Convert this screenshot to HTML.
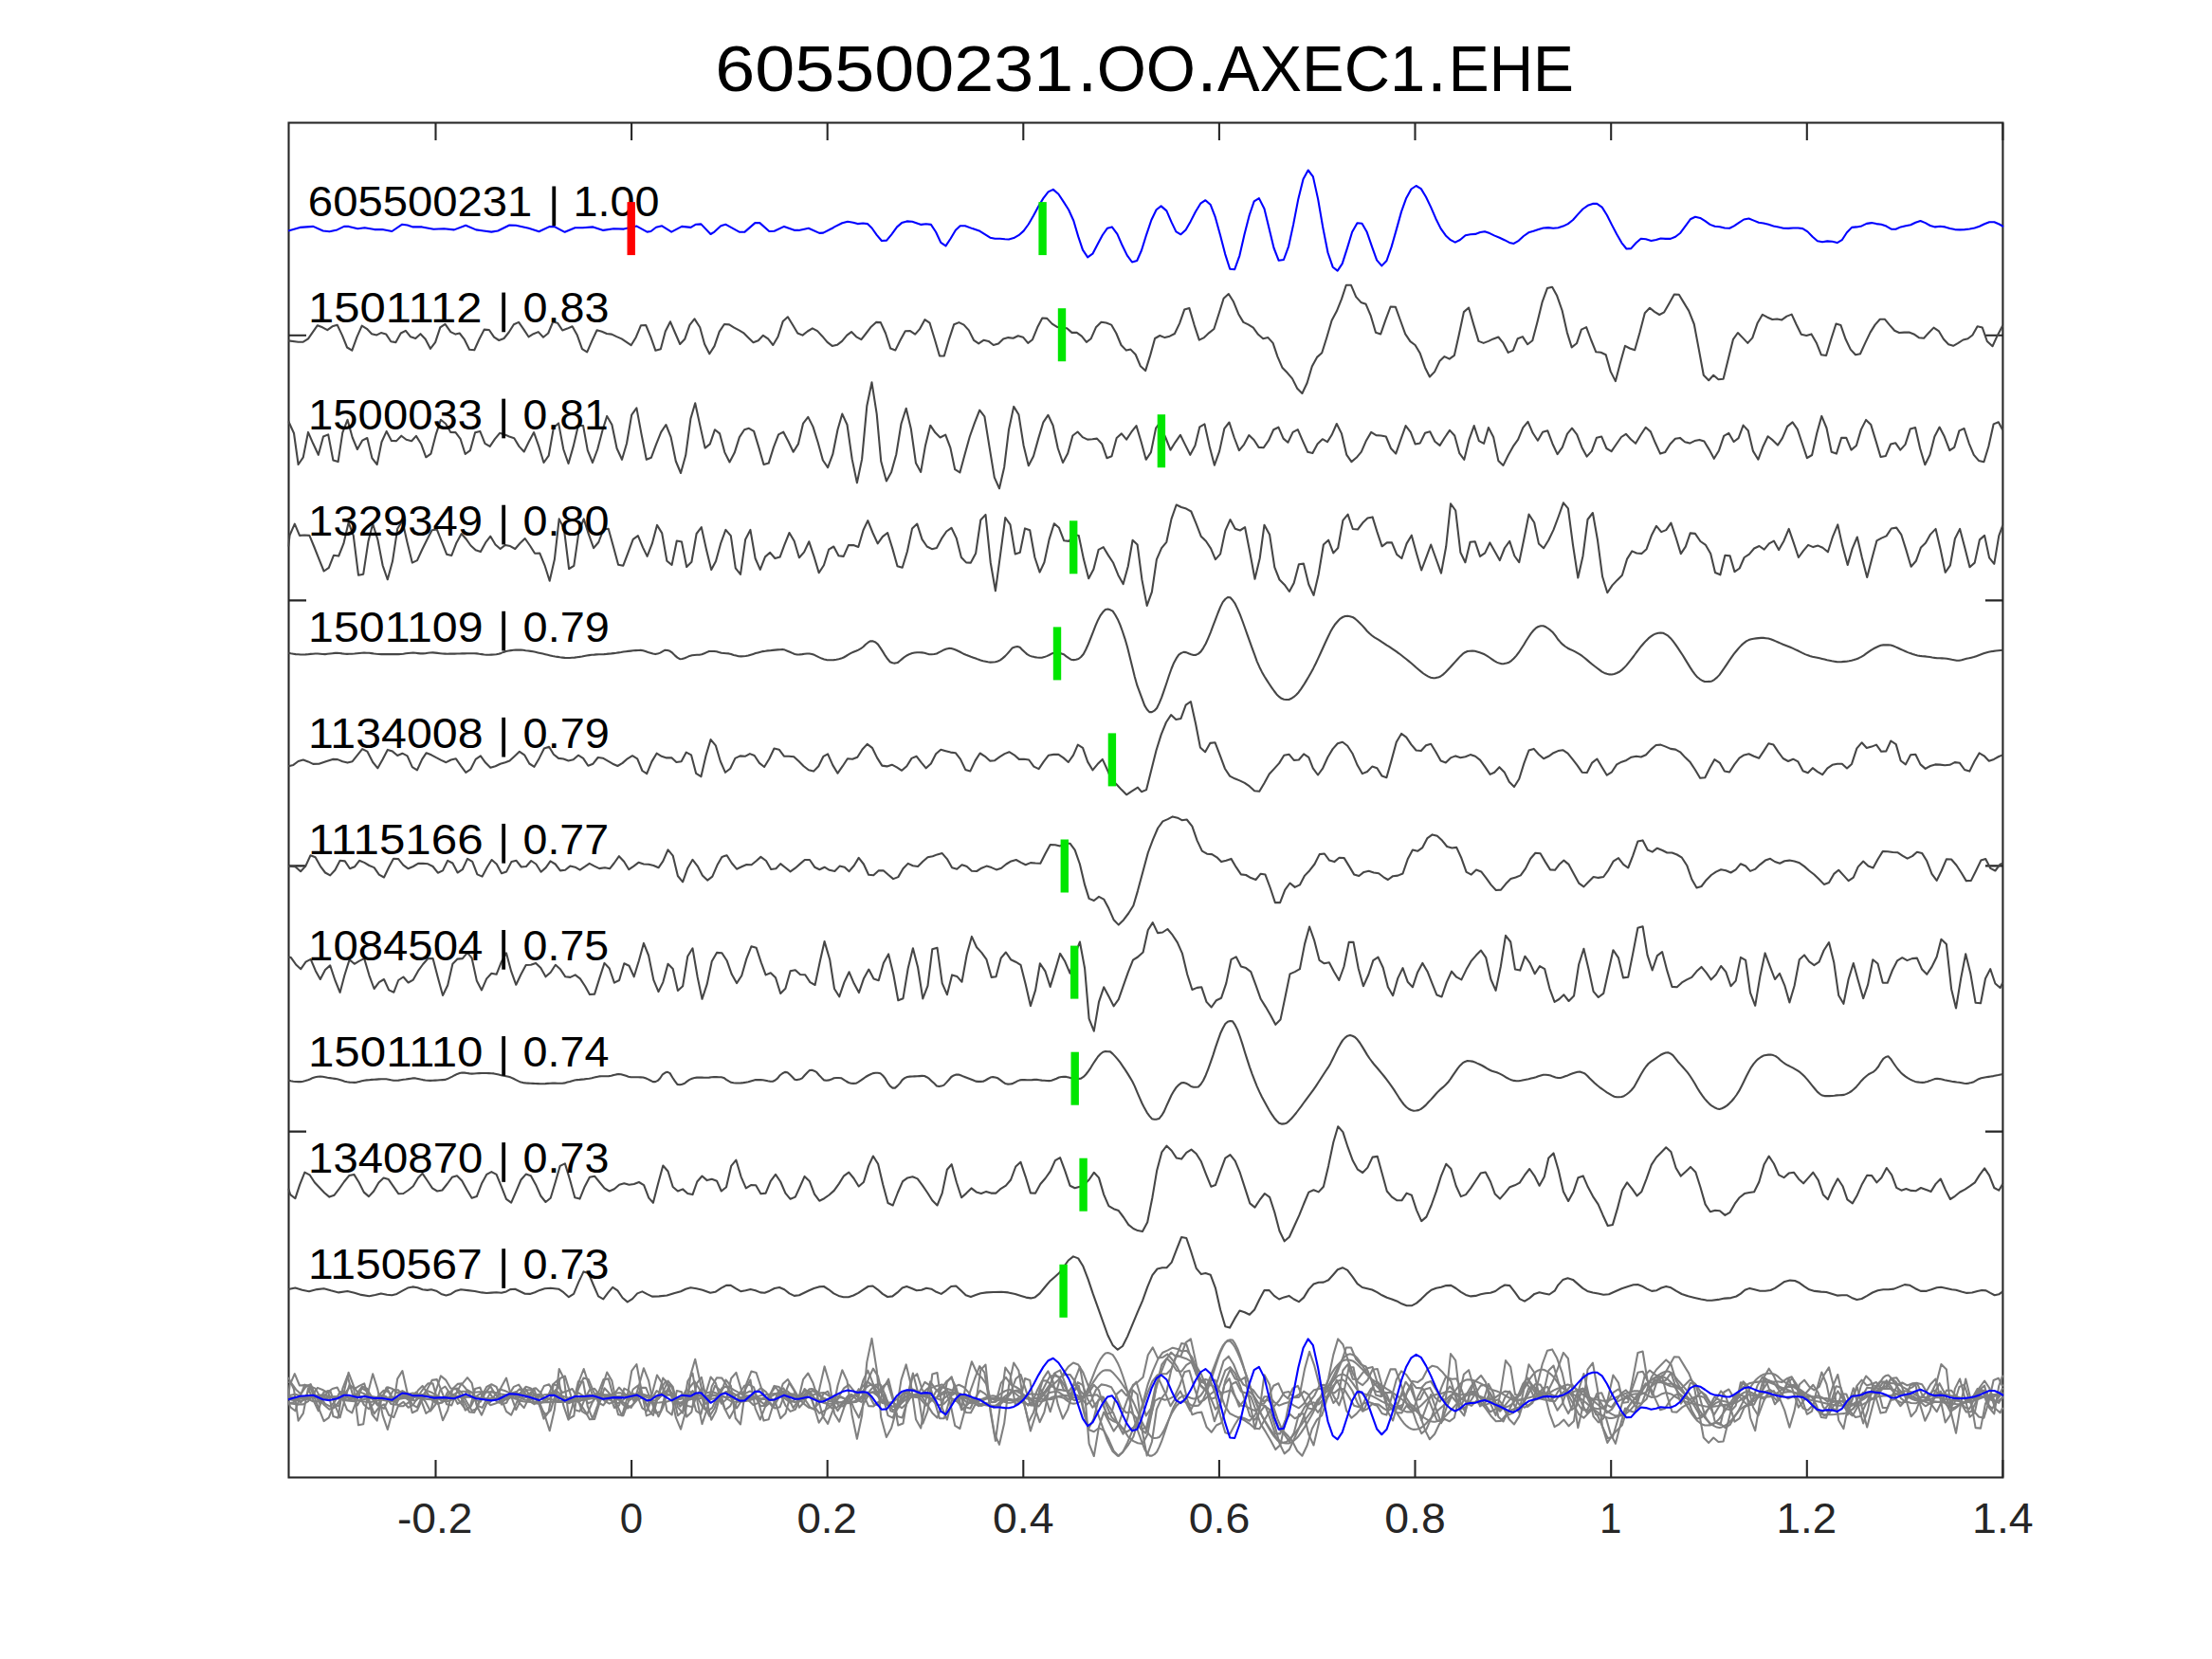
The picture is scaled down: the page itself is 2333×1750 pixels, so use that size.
<!DOCTYPE html>
<html><head><meta charset="utf-8"><title>605500231.OO.AXEC1.EHE</title>
<style>html,body{margin:0;padding:0;background:#fff;}body{width:2333px;height:1750px;overflow:hidden;}svg{display:block;}text{font-family:"Liberation Sans",sans-serif;}</style></head><body>
<svg width="2333" height="1750" viewBox="0 0 2333 1750">
<rect x="0" y="0" width="2333" height="1750" fill="#ffffff"/>
<defs><clipPath id="ax"><rect x="303.5" y="128.5" width="1809.9" height="1431.0"/></clipPath>
<polyline id="r0" points="304.1,243.5 316.3,239.9 330.4,238.9 340.7,243.5 347.5,244.3 355.6,242.4 362.9,238.9 367.8,238.9 377.3,241.3 384.6,240.2 394.9,242.1 403.1,242.1 413.4,244.0 424.2,236.7 429.7,237.5 435.6,239.4 445.1,239.4 457.3,241.8 468.2,241.3 479.0,242.4 491.2,237.8 502.1,242.4 518.4,244.6 525.1,243.5 537.3,237.5 544.1,237.8 557.7,240.8 568.5,244.3 579.4,239.1 584.8,239.1 595.7,244.8 606.5,240.2 614.6,240.2 625.5,239.4 636.3,242.9 647.2,241.3 658.0,241.6 671.6,238.6 682.5,244.6 686.5,244.0 692.0,239.7 698.2,238.3 708.2,244.6 719.1,238.9 728.6,239.9 734.0,236.7 739.4,236.4 749.5,247.0 753.5,244.6 760.3,238.3 765.2,236.7 780.1,244.8 785.5,244.6 796.4,235.1 801.3,235.1 811.3,244.0 816.7,243.7 827.0,238.9 838.4,242.9 842.5,242.9 852.8,240.8 864.2,245.9 868.3,245.6 877.8,240.8 880.0,239.4 888.3,235.3 894.1,233.8 899.8,234.7 904.5,236.1 910.2,235.5 914.9,236.1 919.5,240.5 924.7,247.8 929.9,254.0 935.1,253.6 940.3,247.3 946.1,239.4 951.1,235.1 956.5,233.4 962.1,233.8 971.5,236.9 976.7,236.3 981.9,236.9 987.1,244.8 992.3,255.9 997.5,259.4 1002.7,251.5 1007.9,242.8 1012.7,238.2 1017.9,238.2 1025.6,241.1 1033.5,243.8 1039.1,247.3 1044.3,250.7 1049.5,251.7 1054.7,251.7 1059.9,252.3 1064.0,252.5 1069.2,251.1 1074.4,248.2 1079.6,243.6 1084.8,236.5 1090.0,227.6 1095.2,217.8 1100.4,209.1 1105.6,202.4 1110.8,199.9 1116.4,204.7 1121.6,212.6 1127.1,221.3 1132.3,232.8 1137.2,249.4 1142.0,263.6 1147.2,271.3 1152.4,267.7 1157.6,257.7 1162.8,248.0 1168.0,240.7 1172.8,239.4 1178.4,246.9 1183.6,258.8 1188.8,269.4 1194.0,276.5 1199.2,275.0 1204.0,264.0 1209.2,247.3 1214.4,232.0 1219.6,221.3 1224.6,217.4 1230.4,222.4 1235.6,234.4 1240.4,244.4 1245.4,247.3 1250.6,242.4 1255.8,233.4 1261.0,223.2 1266.2,214.7 1271.4,211.2 1276.8,216.1 1281.8,229.2 1287.0,248.0 1292.2,268.1 1297.2,283.7 1302.2,284.2 1307.4,269.6 1312.5,247.3 1317.7,227.0 1322.7,212.4 1327.9,209.1 1333.5,220.3 1338.3,240.1 1343.5,261.5 1348.7,274.8 1353.9,274.0 1359.1,259.8 1364.1,236.9 1369.3,209.9 1374.5,189.1 1379.7,179.5 1384.9,186.4 1390.1,209.9 1395.3,240.1 1400.5,266.5 1405.7,281.7 1410.7,285.6 1415.7,278.1 1420.9,261.9 1426.1,244.8 1431.5,235.3 1436.5,235.7 1441.7,244.8 1446.9,259.8 1452.1,274.4 1457.3,280.4 1462.5,275.0 1467.6,260.4 1472.8,242.1 1478.0,223.4 1483.2,208.9 1488.4,199.5 1493.6,196.0 1498.8,199.1 1504.0,207.8 1509.2,218.6 1514.4,230.7 1519.6,241.1 1524.8,248.4 1530.0,253.2 1534.8,255.7 1540.0,253.0 1545.6,248.2 1550.8,247.3 1556.0,246.9 1561.2,245.1 1566.0,244.2 1571.2,246.1 1576.4,248.6 1581.6,250.7 1586.8,253.2 1592.0,255.9 1596.6,256.9 1601.8,253.8 1607.0,249.0 1612.2,245.3 1617.4,243.8 1622.6,242.1 1627.8,240.5 1633.0,240.1 1638.2,240.7 1643.4,240.3 1648.6,238.6 1653.8,236.1 1659.0,232.0 1664.2,226.1 1669.4,220.5 1674.6,216.8 1679.8,214.9 1684.3,214.9 1689.7,218.6 1694.9,227.0 1700.1,237.4 1705.3,247.3 1710.5,256.3 1715.5,262.5 1720.3,262.1 1725.5,256.3 1730.7,251.7 1735.9,252.3 1741.5,254.0 1746.7,253.0 1751.5,251.5 1756.7,251.9 1761.9,251.9 1767.1,249.8 1772.3,245.7 1777.5,238.6 1782.8,231.3 1788.0,228.8 1793.2,229.9 1798.4,233.2 1803.6,236.9 1808.6,238.8 1813.8,239.2 1819.0,240.5 1824.2,240.7 1828.9,238.4 1834.1,234.9 1839.3,231.5 1844.5,230.5 1849.7,232.6 1854.9,234.7 1860.1,235.5 1865.3,236.7 1870.5,238.4 1875.7,239.6 1880.9,240.7 1886.1,240.9 1891.3,240.5 1896.5,240.5 1901.3,241.1 1906.5,244.4 1911.7,249.8 1916.9,254.2 1922.1,255.2 1927.3,254.4 1932.5,254.8 1937.7,256.1 1942.7,253.2 1947.9,245.3 1953.1,239.9 1958.3,239.4 1963.5,238.4 1968.7,235.9 1973.9,235.1 1979.1,236.1 1984.3,236.7 1989.5,238.6 1994.7,241.7 1999.5,241.7 2004.7,239.4 2009.9,238.2 2015.1,237.2 2020.3,234.7 2025.5,233.0 2030.7,235.1 2035.8,238.0 2041.0,239.4 2046.2,238.8 2051.4,239.4 2056.6,241.1 2061.8,242.1 2067.0,242.4 2072.2,242.1 2077.4,241.5 2082.6,240.5 2087.8,238.8 2093.0,236.3 2098.2,234.2 2103.4,234.2 2108.6,236.5 2113.2,239.2"/>
<polyline id="r1" points="304.2,359.4 314.6,360.7 319.8,360.7 325.0,357.4 330.2,349.9 334.9,343.2 340.1,345.3 345.3,348.2 350.5,344.3 355.7,342.8 360.9,353.6 366.1,366.5 371.3,369.6 376.5,355.3 381.7,343.6 386.9,346.8 392.1,352.2 397.3,353.4 401.9,351.1 407.1,352.4 412.3,360.3 417.5,361.1 422.7,351.5 427.9,348.8 433.1,355.3 438.3,357.0 443.5,352.2 448.7,357.8 453.9,367.8 459.1,361.1 464.3,345.3 469.5,341.8 475.3,350.1 480.5,352.6 484.7,351.5 489.9,358.2 495.1,368.8 500.3,369.2 505.5,357.8 510.7,347.6 515.9,348.0 521.1,355.7 526.3,359.0 531.5,357.0 536.7,350.5 541.9,342.2 547.1,339.9 552.3,347.4 557.5,355.3 562.6,352.2 567.8,350.1 573.0,355.7 578.2,351.5 583.2,339.5 588.0,340.7 593.2,348.4 598.4,346.6 603.6,344.3 608.8,353.6 614.0,368.2 619.2,371.3 624.4,359.4 629.6,348.2 634.8,349.7 640.0,352.0 645.2,352.6 650.4,355.1 655.6,357.4 660.8,360.9 665.6,364.2 670.8,355.7 676.0,343.2 681.2,343.0 686.4,355.7 691.4,369.8 696.8,368.2 701.8,349.5 707.0,339.3 712.2,351.5 717.2,363.0 722.2,357.8 727.4,342.8 732.5,336.4 738.2,345.3 743.1,363.0 748.3,373.2 753.5,365.1 758.7,349.9 763.9,342.0 769.1,342.4 774.3,345.7 779.5,348.4 784.1,351.1 789.3,356.3 794.5,361.3 799.7,359.2 804.9,353.8 810.1,357.4 815.3,364.0 820.5,355.3 825.7,339.1 830.9,334.3 836.1,342.8 841.3,351.5 846.5,353.6 851.7,349.5 856.9,346.3 862.1,349.1 867.3,354.7 872.5,360.9 877.7,364.9 882.9,363.8 888.1,359.9 893.3,353.6 898.0,350.1 903.2,355.3 908.4,358.2 913.6,351.5 918.8,344.7 924.0,339.9 928.8,340.1 934.0,351.5 939.2,367.6 944.4,369.4 949.6,358.8 954.8,349.3 960.0,349.1 965.2,352.6 969.8,347.4 975.4,337.2 980.6,340.7 985.8,357.8 991.0,375.5 995.8,375.5 1001.0,357.8 1006.2,342.2 1011.4,340.1 1016.6,342.6 1021.8,348.4 1027.0,358.8 1032.2,362.4 1037.4,358.8 1042.6,359.9 1047.8,364.0 1053.0,362.6 1058.2,357.4 1063.4,356.1 1068.6,356.7 1073.8,354.2 1079.0,355.7 1084.2,361.9 1089.0,358.2 1094.2,345.3 1099.3,335.5 1104.3,335.9 1109.7,341.6 1114.9,344.9 1120.1,345.7 1125.3,346.3 1130.5,350.9 1135.7,350.9 1140.9,354.7 1145.9,360.9 1150.7,357.2 1155.9,345.3 1161.5,339.7 1166.7,340.5 1172.1,342.6 1177.3,351.5 1182.5,364.0 1187.9,369.6 1192.5,368.6 1197.7,374.0 1202.9,386.3 1208.1,391.1 1213.3,374.4 1218.1,357.0 1223.3,354.0 1228.5,356.1 1233.7,354.7 1238.9,352.0 1244.1,341.1 1249.2,326.6 1254.4,325.1 1259.6,342.8 1264.8,358.6 1270.0,356.1 1275.2,351.1 1280.4,347.0 1285.6,330.8 1290.6,314.7 1295.8,310.0 1301.0,318.3 1306.2,331.2 1311.4,339.9 1316.6,342.4 1321.8,345.7 1327.0,352.8 1332.2,357.2 1337.4,356.1 1342.6,361.9 1347.4,376.1 1352.6,388.1 1357.8,393.3 1363.0,399.4 1368.2,409.8 1373.4,415.0 1378.6,404.0 1383.8,386.5 1389.0,376.9 1394.2,372.3 1399.4,355.7 1404.6,338.0 1409.8,328.3 1415.0,315.4 1419.8,300.8 1425.0,300.8 1430.2,313.1 1435.4,318.9 1440.6,320.8 1445.8,333.2 1451.0,350.7 1456.2,352.4 1461.4,337.4 1466.6,323.5 1471.8,323.7 1477.0,338.0 1482.2,352.4 1487.4,360.1 1492.6,364.0 1497.8,372.8 1503.0,387.7 1507.9,397.5 1513.1,392.1 1518.3,381.1 1523.5,376.1 1528.7,378.6 1533.9,374.8 1538.7,353.6 1543.9,329.1 1549.1,324.5 1554.3,342.6 1559.5,359.9 1564.7,361.9 1569.9,359.9 1575.1,357.4 1580.3,355.5 1585.5,361.9 1590.7,371.9 1595.9,369.6 1600.7,357.2 1605.9,355.1 1611.1,363.2 1616.3,359.2 1621.5,339.5 1626.7,318.3 1631.9,304.1 1637.1,302.7 1642.2,312.1 1647.6,327.5 1652.8,350.6 1657.7,366.4 1662.9,362.3 1667.9,347.6 1673.1,345.1 1678.1,358.5 1683.3,371.3 1688.5,371.8 1693.7,374.3 1698.7,391.9 1703.9,402.1 1708.8,383.3 1714.0,364.8 1719.0,367.5 1724.2,369.3 1729.4,351.0 1734.8,330.2 1740.0,324.8 1745.0,328.9 1750.2,332.0 1755.2,329.3 1760.4,320.3 1765.8,310.5 1770.8,310.8 1776.0,319.4 1781.2,327.9 1786.8,342.0 1791.8,368.6 1796.8,395.8 1802.2,401.2 1807.2,395.8 1812.4,400.3 1817.6,399.8 1822.8,378.8 1828.0,357.8 1832.9,351.0 1838.1,356.4 1843.3,361.9 1848.3,356.4 1853.5,341.1 1858.9,331.8 1864.1,334.7 1869.3,337.0 1874.3,336.5 1879.3,337.4 1884.5,333.6 1889.7,331.6 1894.6,342.2 1899.8,352.8 1905.3,353.9 1910.5,352.4 1915.7,361.4 1920.9,374.3 1926.1,375.0 1931.3,357.8 1936.5,341.5 1941.4,342.9 1946.6,357.8 1951.8,368.6 1957.0,374.3 1962.0,373.2 1967.2,361.9 1972.6,350.6 1977.6,342.6 1982.8,336.8 1988.0,336.8 1993.0,342.9 1998.2,348.7 2003.1,351.0 2008.3,350.6 2013.5,350.6 2018.5,352.4 2023.9,356.2 2029.1,356.7 2034.3,351.0 2039.5,345.6 2045.0,349.4 2049.9,357.8 2055.1,363.2 2060.1,364.8 2065.3,361.9 2070.5,358.5 2075.5,357.3 2080.4,353.5 2085.6,344.2 2090.8,345.6 2095.8,360.0 2101.5,365.2 2106.7,353.9 2112.3,343.3"/>
<polyline id="r2" points="304.2,444.3 310.0,457.0 314.6,490.0 319.8,482.3 325.0,455.9 330.2,467.8 335.8,479.8 341.0,460.5 346.2,458.4 351.4,485.5 356.6,487.1 361.3,456.3 366.5,442.8 371.7,461.5 376.9,474.0 382.1,464.7 387.3,462.0 392.5,483.4 397.7,490.0 402.5,466.3 407.7,454.9 412.9,464.9 418.1,465.1 423.3,459.7 428.5,463.8 434.1,465.3 438.9,459.9 444.1,468.2 449.3,482.3 454.5,478.6 459.7,458.4 464.9,442.8 470.1,447.0 475.3,455.9 480.5,456.1 485.7,463.2 490.7,479.0 495.9,475.1 501.1,456.3 506.3,454.9 511.5,467.8 516.7,470.9 521.9,463.2 527.1,456.8 532.3,458.4 537.1,460.5 542.3,462.2 547.5,470.9 552.7,476.5 557.9,465.7 563.1,456.1 568.3,470.9 573.5,488.0 578.7,480.7 583.9,451.1 589.1,446.4 594.3,474.0 599.5,489.0 604.7,470.9 609.9,448.7 615.1,449.1 619.8,475.1 625.0,488.0 630.2,474.0 635.4,454.3 640.2,438.9 645.4,448.0 650.6,473.0 656.0,484.8 661.0,467.8 666.2,437.6 671.4,430.4 676.6,458.4 681.8,484.8 686.8,482.8 692.0,468.8 697.2,455.9 702.4,448.0 707.6,461.1 712.8,486.5 718.0,499.0 723.2,480.3 728.4,441.8 733.2,425.2 738.4,449.1 743.6,472.6 748.8,468.4 754.0,453.2 759.1,457.4 764.3,477.1 769.5,487.5 774.7,477.6 779.9,461.1 785.1,453.2 789.9,451.8 795.1,454.9 800.3,471.9 805.5,490.0 810.7,488.6 815.9,471.9 821.1,458.4 826.3,455.7 831.5,465.7 836.7,476.7 841.9,468.4 847.1,446.6 852.3,439.9 857.5,450.1 862.7,466.7 867.9,485.5 873.1,493.2 878.3,479.2 883.5,453.2 888.3,436.6 893.5,448.0 898.7,484.4 903.9,509.2 909.1,484.4 914.3,428.3 919.5,403.3 924.7,436.6 929.2,486.5 934.9,507.5 940.1,497.9 945.3,479.2 950.5,447.0 955.7,430.8 960.8,452.2 966.0,488.6 971.2,497.9 976.0,469.9 981.2,448.7 986.4,456.3 991.6,461.5 997.2,458.6 1002.4,472.4 1007.2,495.2 1012.4,498.4 1017.6,479.2 1022.8,460.5 1028.0,445.9 1033.2,432.6 1038.4,439.3 1043.6,471.9 1048.8,503.6 1054.0,515.2 1059.2,492.7 1064.0,453.2 1069.2,428.9 1074.4,437.2 1079.6,469.9 1084.8,491.3 1090.0,481.3 1095.2,462.6 1100.4,445.3 1105.4,437.8 1110.6,448.7 1115.8,473.0 1121.0,488.0 1126.2,478.2 1131.4,459.5 1136.6,455.5 1141.8,461.1 1147.0,463.6 1152.2,463.2 1157.0,462.6 1162.2,468.2 1167.4,483.2 1172.5,481.3 1177.7,462.0 1182.9,457.4 1188.1,463.6 1193.3,455.7 1198.5,449.1 1203.5,465.7 1208.7,484.8 1213.9,477.1 1219.1,451.6 1222.6,447.0 1229.3,461.5 1234.5,474.6 1239.7,466.3 1244.9,458.8 1250.1,469.4 1255.3,479.8 1260.5,469.9 1265.3,450.3 1270.5,447.4 1275.7,470.9 1280.9,490.7 1286.1,476.1 1291.3,452.2 1296.5,445.5 1301.7,461.5 1306.9,475.1 1312.1,468.8 1317.3,459.1 1322.5,464.0 1327.6,471.9 1332.8,472.2 1338.0,464.7 1343.2,453.2 1348.4,450.7 1353.6,462.6 1358.4,466.7 1363.6,455.9 1368.8,453.2 1374.0,465.1 1379.2,476.7 1384.4,478.0 1389.6,468.2 1394.8,463.2 1400.0,466.1 1404.6,458.8 1409.8,447.0 1415.0,457.4 1420.2,479.6 1425.4,487.1 1430.6,482.8 1435.8,476.7 1441.0,464.7 1446.2,455.9 1451.4,459.1 1456.6,459.5 1461.8,460.5 1467.0,473.0 1472.2,478.6 1477.4,463.6 1482.6,449.1 1487.8,455.9 1492.6,468.4 1497.8,467.4 1503.0,456.8 1508.2,455.3 1513.4,465.7 1518.6,469.9 1523.8,461.5 1529.0,453.9 1534.2,459.5 1539.3,478.2 1544.3,484.8 1549.5,463.6 1554.7,449.1 1559.9,465.1 1565.1,467.8 1569.9,451.1 1575.1,460.9 1580.3,485.9 1585.5,490.9 1590.7,480.3 1595.9,470.9 1601.1,463.6 1606.3,451.1 1611.5,444.9 1616.7,456.8 1621.9,464.7 1627.1,455.7 1632.3,454.3 1637.5,468.2 1642.6,479.1 1647.8,471.9 1653.0,457.6 1658.0,451.7 1663.2,458.3 1668.4,471.9 1673.6,481.6 1678.8,475.9 1684.0,461.7 1689.2,460.6 1694.4,473.0 1699.6,476.1 1704.8,468.5 1710.0,461.0 1714.9,457.8 1720.1,463.5 1725.1,467.8 1730.3,459.0 1735.7,450.8 1740.9,455.4 1745.9,467.3 1751.1,478.6 1756.1,477.1 1761.5,468.5 1766.9,462.8 1771.9,461.9 1777.1,466.2 1782.1,467.6 1787.3,465.1 1792.5,463.9 1797.4,465.5 1802.6,474.1 1807.8,483.8 1813.0,475.2 1818.2,459.9 1823.4,456.9 1828.6,466.0 1833.6,462.1 1838.6,448.6 1843.8,454.2 1849.0,475.9 1854.4,484.7 1859.6,470.7 1864.6,460.3 1869.8,464.4 1875.0,469.6 1879.9,462.1 1885.1,449.9 1890.6,445.4 1895.8,452.9 1901.0,468.5 1905.9,483.2 1911.1,480.0 1916.3,456.7 1921.3,438.9 1926.5,451.5 1931.7,476.8 1936.9,478.6 1942.1,461.9 1947.3,461.9 1952.5,474.6 1957.9,470.0 1962.9,453.1 1968.1,442.9 1973.3,448.1 1978.5,465.1 1983.5,482.0 1988.9,480.9 1994.1,468.5 1999.3,467.3 2004.3,474.6 2009.5,468.9 2014.7,452.6 2020.1,451.1 2025.1,473.0 2030.3,490.2 2035.5,479.8 2040.4,460.6 2045.6,450.6 2050.8,460.6 2056.3,475.2 2061.2,471.9 2066.4,454.4 2071.6,452.0 2076.6,467.3 2081.8,479.8 2087.0,485.9 2092.4,487.2 2097.4,470.7 2102.6,447.4 2107.8,445.2 2112.3,453.8"/>
<polyline id="r3" points="304.2,576.5 305.6,564.5 310.8,552.6 316.0,564.9 321.2,564.5 326.4,564.9 331.2,576.5 336.4,589.6 341.6,602.5 346.8,598.8 352.0,585.7 357.2,586.5 362.4,573.4 367.6,551.2 372.8,565.1 378.0,606.7 383.2,605.7 388.4,571.3 393.2,552.6 398.4,569.3 403.6,596.3 408.8,611.3 414.0,592.1 419.2,557.8 424.4,549.5 429.6,572.4 434.8,593.6 440.0,591.1 445.2,579.7 450.4,569.3 455.6,559.3 460.8,558.5 465.9,571.3 471.1,584.7 476.3,585.9 481.5,572.4 486.7,563.0 491.3,568.2 496.5,575.5 501.7,580.3 506.9,582.0 512.1,572.4 517.3,565.7 522.5,574.5 527.7,579.0 532.9,574.9 538.1,576.1 543.3,579.0 548.5,573.0 553.7,568.0 558.9,575.5 564.1,583.8 569.3,583.6 574.5,596.3 579.7,612.7 584.9,590.1 589.7,547.4 594.9,557.8 600.1,600.0 605.3,596.9 610.5,560.9 615.7,547.4 620.9,563.7 626.1,578.2 631.3,572.0 636.5,558.5 641.7,557.8 646.9,576.5 652.1,595.7 657.3,596.7 662.5,582.8 667.7,568.9 672.9,565.1 678.1,577.6 682.6,586.9 687.8,573.4 693.0,553.9 698.2,562.4 703.4,591.7 708.6,595.9 713.8,570.5 719.0,571.6 724.2,598.0 729.4,592.8 734.6,563.0 739.8,556.2 745.0,579.7 750.2,601.1 755.0,592.1 760.2,573.0 765.4,558.9 770.8,565.1 775.8,599.4 781.0,605.9 786.2,568.9 791.4,558.9 796.6,589.0 801.8,600.9 807.0,587.4 812.2,582.8 817.4,589.0 822.6,587.6 827.3,574.9 832.5,562.0 837.7,570.7 842.9,588.2 848.1,582.4 853.3,571.3 858.5,586.9 863.7,604.2 868.9,596.3 874.1,579.7 879.3,576.5 884.5,586.3 889.7,586.9 894.9,575.1 900.1,575.1 905.3,577.0 910.5,559.3 915.3,549.1 920.5,562.0 925.7,573.4 930.9,566.1 936.1,562.0 941.3,578.6 946.5,597.3 951.7,598.8 956.9,581.7 962.1,557.4 967.3,552.6 972.5,568.9 977.7,576.5 982.9,579.2 987.9,578.0 993.1,568.2 998.3,560.5 1003.5,556.8 1008.7,567.6 1013.9,588.0 1019.1,593.4 1023.9,593.6 1029.1,583.8 1034.3,548.5 1039.5,542.9 1044.7,593.2 1049.9,623.3 1055.1,584.9 1060.3,546.0 1065.5,553.3 1070.7,584.4 1075.8,582.8 1081.0,557.4 1086.2,559.3 1091.4,588.0 1096.6,603.6 1101.4,593.2 1106.6,568.9 1111.8,552.2 1117.0,556.8 1122.2,570.3 1127.4,570.9 1132.6,564.1 1137.8,565.1 1143.0,590.1 1148.2,610.2 1153.4,600.5 1158.6,579.9 1163.8,577.2 1169.0,585.9 1174.2,593.8 1179.4,606.7 1184.6,616.1 1189.8,597.3 1194.6,569.7 1199.6,574.5 1204.5,611.9 1209.7,638.9 1214.9,624.4 1219.9,590.1 1225.1,578.2 1230.3,571.8 1235.5,547.4 1240.7,532.5 1245.9,535.0 1251.1,536.6 1256.3,539.5 1261.5,552.2 1266.7,565.7 1271.9,570.7 1277.1,578.6 1281.9,590.1 1287.1,584.4 1292.3,559.9 1297.5,548.1 1302.7,557.8 1307.9,559.5 1313.1,556.2 1318.3,582.8 1323.5,610.7 1328.7,589.0 1333.5,553.7 1339.1,564.1 1344.3,598.4 1349.5,611.5 1354.7,616.7 1359.9,624.0 1364.7,615.0 1369.9,595.3 1374.9,594.6 1380.3,616.5 1385.5,627.9 1390.7,605.7 1395.9,574.5 1401.1,569.7 1406.3,583.4 1411.2,578.0 1416.4,548.9 1421.6,542.6 1426.8,558.0 1432.0,558.5 1437.2,551.6 1442.4,546.6 1447.6,545.4 1452.4,560.9 1457.6,576.3 1462.8,572.4 1468.0,572.4 1473.2,584.9 1478.4,589.0 1483.6,573.4 1488.8,564.7 1494.0,583.8 1499.2,601.5 1504.4,587.6 1509.2,574.5 1514.4,589.0 1520.0,604.6 1525.2,576.5 1530.0,531.4 1535.2,538.5 1540.4,582.8 1545.4,593.2 1550.6,571.8 1555.8,571.3 1561.0,586.9 1566.2,583.4 1571.4,572.4 1576.6,581.7 1581.8,591.1 1587.0,578.0 1592.2,570.9 1597.4,586.5 1602.2,593.2 1607.4,568.2 1612.5,542.6 1618.2,551.2 1622.9,573.4 1628.1,578.2 1633.3,569.7 1638.5,558.9 1643.7,545.0 1648.9,530.3 1653.9,536.4 1659.1,575.6 1664.3,609.5 1669.5,586.4 1674.5,548.0 1679.9,541.0 1684.9,569.2 1690.1,608.3 1695.3,625.3 1700.5,617.4 1705.7,611.9 1710.9,606.7 1716.1,589.6 1721.3,581.4 1726.2,583.5 1731.4,583.9 1736.6,579.2 1742.1,564.2 1747.0,554.8 1752.2,561.1 1757.2,559.1 1762.4,551.6 1767.6,567.0 1772.8,584.1 1777.8,576.7 1782.7,562.4 1787.9,562.9 1793.4,571.0 1799.0,574.9 1804.2,583.9 1809.0,604.0 1814.4,606.3 1819.4,585.7 1824.6,586.4 1829.5,603.1 1834.7,599.5 1839.7,588.0 1844.9,584.6 1850.1,578.5 1855.5,576.0 1860.7,579.6 1865.9,573.3 1870.9,570.6 1876.1,580.1 1881.5,570.4 1886.7,557.9 1891.7,572.4 1896.9,588.0 1901.9,581.2 1907.1,574.9 1912.3,577.1 1917.5,575.6 1922.4,577.8 1927.9,582.3 1933.1,565.8 1938.3,553.4 1943.2,575.6 1948.7,595.9 1953.6,578.9 1958.8,566.5 1963.8,588.0 1969.2,609.0 1974.4,589.1 1979.4,570.4 1984.4,567.6 1989.6,565.4 1994.8,557.5 2000.2,556.6 2005.4,564.2 2010.4,580.1 2015.6,597.7 2020.8,591.8 2026.0,577.4 2030.9,572.8 2036.1,563.6 2041.6,557.9 2046.5,578.9 2051.7,603.8 2056.9,596.3 2061.9,568.3 2067.1,557.9 2072.3,577.8 2077.5,598.2 2082.7,593.6 2087.9,569.4 2093.1,564.9 2098.1,588.4 2103.3,594.8 2108.2,565.4 2112.3,554.1"/>
<polyline id="r4" points="304.2,688.8 306.7,689.3 309.3,689.7 311.9,690.1 314.5,690.3 317.1,690.5 319.6,690.5 322.2,690.4 324.8,690.2 327.4,689.9 330.0,689.7 332.5,689.5 335.1,689.5 337.7,689.7 340.3,690.0 342.9,690.1 345.4,689.8 348.0,689.5 350.6,689.2 353.2,688.9 355.8,688.8 358.3,689.0 360.9,689.4 363.5,689.7 366.1,689.9 368.7,689.8 371.2,689.7 373.8,689.5 376.4,689.2 379.0,689.0 381.6,688.8 384.1,688.6 386.7,688.7 389.3,688.8 391.9,689.1 394.5,689.5 397.0,689.8 399.6,690.0 402.2,690.1 404.8,690.1 407.4,690.1 409.9,690.1 412.5,690.1 415.1,690.1 417.7,690.1 420.3,690.1 422.8,690.0 425.4,689.7 428.0,689.3 430.6,689.0 433.2,688.7 435.7,688.6 438.3,688.8 440.9,689.1 443.5,689.4 446.1,689.4 448.6,689.2 451.2,688.8 453.8,688.5 456.4,688.4 459.0,688.6 461.5,688.9 464.1,689.2 466.7,689.5 469.3,689.6 471.9,689.7 474.4,689.6 477.0,689.6 479.6,689.6 482.2,689.5 484.8,689.5 487.3,689.4 489.9,689.4 492.5,689.3 495.1,689.3 497.7,689.3 500.2,689.3 502.8,689.4 505.4,689.8 508.0,690.1 510.6,690.5 513.1,690.7 515.7,690.7 518.3,690.6 520.9,690.5 523.5,690.3 526.0,689.8 528.6,688.9 531.2,687.9 533.8,687.0 536.4,686.5 538.9,686.1 541.5,685.8 544.1,685.6 546.7,685.5 549.3,685.6 551.8,685.8 554.4,686.2 557.0,686.5 559.6,686.9 562.2,687.3 564.7,687.8 567.3,688.4 569.9,689.0 572.5,689.6 575.1,690.2 577.6,690.8 580.2,691.4 582.8,692.0 585.4,692.5 588.0,692.9 590.5,693.3 593.1,693.6 595.7,693.9 598.3,694.0 600.9,694.0 603.4,693.8 606.0,693.6 608.6,693.2 611.2,692.9 613.8,692.5 616.3,692.0 618.9,691.5 621.5,691.1 624.1,690.7 626.7,690.6 629.2,690.4 631.8,690.3 634.4,690.2 637.0,690.1 639.6,689.9 642.1,689.6 644.7,689.4 647.3,689.1 649.9,688.8 652.5,688.4 655.0,688.0 657.6,687.5 660.2,687.2 662.8,686.9 665.4,686.6 667.9,686.3 670.5,686.1 673.1,686.0 675.7,685.9 678.3,686.3 680.8,687.1 683.4,688.0 686.0,688.8 688.6,689.6 691.2,690.1 693.7,689.6 696.3,688.6 698.9,687.1 701.5,685.7 704.1,686.0 706.6,686.8 709.2,688.7 711.8,691.4 714.4,693.6 717.0,695.2 719.5,695.0 722.1,694.2 724.7,693.1 727.3,691.9 729.9,691.3 732.4,691.0 735.0,690.8 737.6,690.7 740.2,690.3 742.8,689.3 745.3,688.1 747.9,687.0 750.5,687.0 753.1,687.0 755.7,687.3 758.2,688.1 760.8,688.8 763.4,689.0 766.0,689.2 768.6,689.4 771.1,690.0 773.7,691.0 776.3,691.6 778.9,692.2 781.5,692.4 784.0,692.2 786.6,692.0 789.2,691.5 791.8,690.7 794.4,689.9 796.9,689.1 799.5,688.4 802.1,687.7 804.7,687.1 807.3,686.8 809.8,686.4 812.4,686.2 815.0,685.9 817.6,685.6 820.2,685.4 822.7,685.2 825.3,685.1 827.9,685.6 830.5,686.7 833.1,687.8 835.6,688.9 838.2,690.0 840.8,690.5 843.4,690.4 846.0,690.1 848.5,689.7 851.1,689.5 853.7,689.5 856.3,690.0 858.9,690.8 861.4,692.1 864.0,693.4 866.6,694.6 869.2,695.4 871.8,696.1 874.3,696.3 876.9,696.2 879.5,696.1 882.1,695.8 884.7,695.3 887.2,694.6 889.8,693.5 892.4,692.0 895.0,690.4 897.6,688.9 900.1,687.8 902.7,686.8 905.3,685.6 907.9,684.2 910.5,682.2 913.0,679.7 915.6,677.7 918.2,676.2 920.8,676.4 923.4,677.5 925.9,679.6 928.5,683.4 931.1,687.4 933.7,691.7 936.3,695.3 938.8,698.2 941.4,699.2 944.0,699.6 946.6,699.1 949.2,697.0 951.7,694.9 954.3,692.8 956.9,691.2 959.5,689.9 962.1,689.1 964.6,688.5 967.2,688.2 969.8,688.3 972.4,688.4 975.0,688.8 977.5,689.6 980.1,690.2 982.7,690.2 985.3,690.0 987.9,689.5 990.4,688.2 993.0,686.8 995.6,685.4 998.2,684.5 1000.8,683.9 1003.3,684.0 1005.9,684.8 1008.5,685.8 1011.1,687.0 1013.7,688.3 1016.2,689.7 1018.8,690.8 1021.4,691.8 1024.0,692.8 1026.6,693.7 1029.1,694.6 1031.7,695.6 1034.3,696.5 1036.9,697.3 1039.5,697.8 1042.0,698.3 1044.6,698.6 1047.2,698.5 1049.8,698.2 1052.4,697.5 1054.9,696.4 1057.5,694.4 1060.1,692.1 1062.7,689.4 1065.3,686.3 1067.8,683.4 1070.4,682.5 1073.0,682.0 1075.6,682.8 1078.2,685.4 1080.7,687.8 1083.3,690.1 1085.9,691.6 1088.5,692.6 1091.1,693.1 1093.6,693.5 1096.2,693.8 1098.8,693.7 1101.4,693.1 1104.0,692.1 1106.5,691.0 1109.1,689.6 1111.7,688.7 1114.3,688.7 1116.9,689.0 1119.4,689.4 1122.0,690.3 1124.6,692.4 1127.2,694.2 1129.8,695.8 1132.3,696.1 1134.9,695.7 1137.5,695.0 1140.1,693.0 1142.7,690.0 1145.2,685.2 1147.8,679.5 1150.4,673.0 1153.0,666.3 1155.6,659.6 1158.1,653.9 1160.7,649.1 1163.3,645.6 1165.9,643.0 1168.5,642.5 1171.0,643.3 1173.6,644.7 1176.2,648.5 1178.8,653.2 1181.4,659.1 1183.9,666.0 1186.5,673.8 1189.1,682.8 1191.7,693.3 1194.3,703.7 1196.8,714.0 1199.4,723.2 1202.0,730.1 1204.6,737.1 1207.2,744.1 1209.7,748.3 1212.3,751.1 1214.9,751.1 1217.5,749.7 1220.1,747.0 1222.6,741.9 1225.2,735.7 1227.8,728.2 1230.4,720.5 1233.0,712.5 1235.5,705.5 1238.1,699.2 1240.7,694.4 1243.3,690.7 1245.9,688.9 1248.4,687.9 1251.0,688.1 1253.6,689.3 1256.2,690.3 1258.8,691.0 1261.3,690.9 1263.9,689.6 1266.5,687.4 1269.1,683.6 1271.7,679.0 1274.2,673.3 1276.8,667.1 1279.4,660.2 1282.0,653.3 1284.6,646.5 1287.1,640.4 1289.7,635.1 1292.3,632.0 1294.9,630.0 1297.5,630.3 1300.0,633.0 1302.6,636.7 1305.2,642.1 1307.8,648.2 1310.4,655.0 1312.9,662.0 1315.5,669.3 1318.1,676.6 1320.7,683.9 1323.3,690.9 1325.8,697.8 1328.4,703.7 1331.0,708.9 1333.6,713.5 1336.2,717.6 1338.7,721.5 1341.3,725.4 1343.9,729.0 1346.5,732.4 1349.1,734.9 1351.6,736.8 1354.2,737.7 1356.8,738.0 1359.4,738.0 1362.0,736.8 1364.5,735.2 1367.1,733.0 1369.7,730.2 1372.3,726.6 1374.9,722.7 1377.4,718.6 1380.0,714.3 1382.6,709.7 1385.2,704.9 1387.8,699.7 1390.3,694.4 1392.9,688.7 1395.5,683.0 1398.1,677.2 1400.7,671.7 1403.2,666.6 1405.8,662.1 1408.4,658.2 1411.0,655.2 1413.6,652.6 1416.1,651.0 1418.7,650.0 1421.3,649.8 1423.9,650.2 1426.5,650.9 1429.0,652.5 1431.6,654.7 1434.2,657.2 1436.8,659.9 1439.4,662.8 1441.9,665.7 1444.5,668.3 1447.1,670.5 1449.7,672.3 1452.3,673.8 1454.8,675.3 1457.4,677.1 1460.0,678.8 1462.6,680.6 1465.2,682.2 1467.7,683.9 1470.3,685.6 1472.9,687.4 1475.5,689.3 1478.1,691.3 1480.6,693.3 1483.2,695.3 1485.8,697.4 1488.4,699.5 1491.0,701.7 1493.5,704.0 1496.1,706.2 1498.7,708.4 1501.3,710.5 1503.9,712.2 1506.4,713.6 1509.0,714.7 1511.6,715.2 1514.2,715.1 1516.8,714.6 1519.3,713.5 1521.9,711.6 1524.5,709.3 1527.1,706.5 1529.7,703.8 1532.2,701.0 1534.8,698.1 1537.4,695.2 1540.0,692.4 1542.6,689.9 1545.1,688.2 1547.7,687.0 1550.3,686.7 1552.9,686.5 1555.5,686.8 1558.0,687.5 1560.6,688.3 1563.2,689.2 1565.8,690.3 1568.4,691.8 1570.9,693.5 1573.5,695.3 1576.1,697.2 1578.7,698.6 1581.3,699.6 1583.8,700.2 1586.4,700.1 1589.0,699.5 1591.6,698.7 1594.2,696.8 1596.7,694.5 1599.3,691.6 1601.9,688.2 1604.5,684.2 1607.1,680.2 1609.6,676.0 1612.2,672.0 1614.8,668.1 1617.4,665.0 1620.0,662.4 1622.5,661.0 1625.1,660.3 1627.7,660.2 1630.3,661.3 1632.9,663.0 1635.4,664.9 1638.0,667.3 1640.6,670.7 1643.2,674.5 1645.8,677.4 1648.3,679.9 1650.9,682.0 1653.5,683.7 1656.1,685.0 1658.7,686.1 1661.2,687.4 1663.8,688.9 1666.4,690.4 1669.0,692.2 1671.6,694.2 1674.1,696.4 1676.7,698.6 1679.3,700.7 1681.9,702.8 1684.5,704.8 1687.0,706.7 1689.6,708.6 1692.2,709.9 1694.8,710.8 1697.4,711.4 1699.9,711.5 1702.5,711.0 1705.1,710.0 1707.7,708.8 1710.3,706.9 1712.8,704.6 1715.4,701.9 1718.0,698.7 1720.6,695.4 1723.2,692.0 1725.7,688.5 1728.3,685.1 1730.9,681.7 1733.5,678.7 1736.1,675.9 1738.6,673.4 1741.2,671.4 1743.8,669.6 1746.4,668.4 1749.0,667.8 1751.5,667.5 1754.1,667.8 1756.7,669.1 1759.3,670.7 1761.9,673.2 1764.4,676.2 1767.0,679.6 1769.6,683.4 1772.2,687.3 1774.8,691.3 1777.3,695.4 1779.9,699.6 1782.5,703.9 1785.1,707.8 1787.7,711.3 1790.2,714.3 1792.8,716.3 1795.4,718.0 1798.0,719.0 1800.6,719.0 1803.1,718.9 1805.7,718.4 1808.3,716.8 1810.9,714.6 1813.5,711.9 1816.0,708.4 1818.6,704.7 1821.2,700.8 1823.8,696.9 1826.4,693.2 1828.9,689.7 1831.5,686.5 1834.1,683.4 1836.7,680.6 1839.3,678.3 1841.8,676.4 1844.4,675.1 1847.0,674.3 1849.6,673.7 1852.2,673.4 1854.7,673.1 1857.3,672.9 1859.9,672.9 1862.5,673.2 1865.1,673.5 1867.6,674.2 1870.2,675.3 1872.8,676.4 1875.4,677.5 1878.0,678.6 1880.5,679.7 1883.1,680.7 1885.7,681.7 1888.3,682.8 1890.9,683.9 1893.4,685.1 1896.0,686.3 1898.6,687.6 1901.2,688.9 1903.8,690.1 1906.3,691.1 1908.9,692.0 1911.5,692.8 1914.1,693.3 1916.7,693.8 1919.2,694.3 1921.8,694.9 1924.4,695.6 1927.0,696.3 1929.6,696.8 1932.1,697.3 1934.7,697.7 1937.3,698.1 1939.9,698.2 1942.5,698.1 1945.0,697.9 1947.6,697.7 1950.2,697.3 1952.8,696.8 1955.4,696.1 1957.9,695.3 1960.5,694.2 1963.1,692.8 1965.7,691.3 1968.3,689.4 1970.8,687.6 1973.4,685.9 1976.0,684.3 1978.6,683.0 1981.2,681.8 1983.7,680.8 1986.3,680.4 1988.9,680.4 1991.5,680.4 1994.1,680.5 1996.6,681.3 1999.2,682.4 2001.8,683.5 2004.4,684.7 2007.0,685.9 2009.5,687.0 2012.1,688.1 2014.7,689.1 2017.3,690.0 2019.9,690.8 2022.4,691.5 2025.0,691.9 2027.6,692.2 2030.2,692.4 2032.8,692.7 2035.3,693.0 2037.9,693.5 2040.5,693.9 2043.1,694.2 2045.7,694.3 2048.2,694.4 2050.8,694.5 2053.4,694.8 2056.0,695.2 2058.6,695.8 2061.1,696.2 2063.7,696.7 2066.3,696.8 2068.9,696.2 2071.5,695.4 2074.0,694.8 2076.6,694.3 2079.2,693.7 2081.8,693.1 2084.4,692.2 2086.9,691.3 2089.5,690.3 2092.1,689.3 2094.7,688.4 2097.3,687.7 2099.8,687.2 2102.4,686.9 2105.0,686.5 2107.6,686.2 2110.2,686.0 2112.3,685.8"/>
<polyline id="r5" points="304.2,808.2 309.4,806.9 314.6,803.0 319.8,801.5 325.0,803.4 330.2,805.9 336.4,805.7 343.7,803.2 350.9,800.9 356.1,801.1 361.3,803.2 366.5,804.6 371.7,803.2 376.9,796.7 382.1,790.1 387.3,792.6 393.2,804.0 398.4,810.3 403.6,800.9 408.8,790.9 414.0,792.6 419.2,797.0 424.4,794.7 429.6,797.4 434.8,809.2 440.0,812.3 445.2,800.9 449.7,794.2 454.9,796.3 460.1,799.2 465.3,801.9 470.5,804.2 475.7,801.5 480.9,800.3 486.1,807.8 491.3,814.8 496.5,811.3 501.7,800.9 506.9,797.4 512.1,804.6 517.3,809.8 522.5,808.2 527.7,805.7 532.9,804.2 537.5,802.6 542.7,797.8 547.9,792.8 553.1,796.3 558.3,805.5 563.5,808.8 568.7,799.9 573.9,789.5 579.1,787.8 583.9,795.7 589.1,799.9 594.3,800.5 599.5,802.4 604.7,801.3 609.9,796.7 615.1,799.9 620.3,807.8 625.5,805.7 630.7,799.0 635.8,799.7 641.0,802.6 646.2,805.7 651.4,808.0 656.6,804.9 661.8,800.3 667.0,797.2 672.2,800.3 677.4,813.0 682.2,816.1 687.4,803.4 692.6,794.7 697.8,797.8 703.0,799.4 708.6,799.4 713.4,804.0 718.6,803.2 723.8,793.6 729.0,796.3 734.2,815.9 739.4,819.2 744.6,796.7 749.6,780.1 754.8,786.3 759.8,803.0 765.0,814.8 770.2,810.7 775.4,799.9 780.6,797.4 785.8,797.8 790.9,795.1 795.7,797.0 800.9,804.9 806.1,809.0 811.3,800.5 816.5,789.5 821.7,790.7 826.9,797.6 832.1,797.8 837.3,798.2 842.5,803.0 847.7,808.2 852.9,812.3 858.1,813.6 863.3,808.2 868.5,797.8 873.1,795.3 878.3,807.1 883.5,815.7 888.7,808.2 893.9,800.3 899.1,800.7 904.3,798.8 909.5,790.5 914.7,784.9 919.9,788.8 925.1,799.4 930.3,807.6 935.5,808.4 940.7,806.7 945.9,809.4 951.1,812.8 956.3,808.2 961.5,799.9 966.7,797.8 971.9,804.6 976.7,810.3 981.9,805.5 987.1,795.3 992.3,790.7 997.5,792.2 1002.6,793.6 1007.8,794.2 1013.0,800.9 1018.2,811.9 1023.4,813.4 1028.6,802.4 1033.6,794.5 1038.8,797.8 1044.0,802.6 1049.2,802.2 1054.4,798.4 1059.6,795.1 1064.4,793.2 1069.6,796.3 1074.8,800.9 1080.0,800.7 1085.2,801.5 1090.4,808.6 1095.6,811.1 1100.8,803.4 1106.0,796.7 1111.2,795.9 1116.4,795.9 1121.6,799.4 1126.8,804.0 1132.0,796.7 1136.8,785.7 1142.0,788.8 1147.2,803.6 1152.4,812.3 1157.6,806.1 1162.8,800.9 1168.0,812.3 1172.5,822.7 1177.7,827.5 1182.9,833.1 1188.1,838.3 1193.3,834.8 1200.0,830.6 1203.9,835.2 1209.1,833.1 1214.3,812.3 1219.5,791.5 1224.7,774.9 1229.9,762.0 1235.1,754.1 1240.3,758.9 1245.5,757.9 1250.7,743.7 1255.9,740.0 1261.1,763.5 1265.9,788.4 1271.1,793.2 1276.3,783.9 1281.5,783.2 1286.7,796.7 1291.9,810.7 1297.1,818.6 1302.3,821.3 1307.5,823.4 1312.7,825.9 1317.9,829.4 1323.1,834.2 1328.3,834.8 1333.5,825.9 1338.7,816.5 1343.9,810.9 1349.1,805.1 1354.3,796.7 1359.5,795.7 1364.7,801.9 1369.9,801.5 1375.1,795.3 1380.3,798.8 1384.8,810.3 1390.0,817.5 1395.2,810.3 1400.4,798.8 1405.6,790.1 1410.8,784.3 1416.0,782.8 1421.2,786.8 1426.4,794.7 1431.6,807.1 1436.8,816.1 1442.0,814.0 1447.2,808.6 1452.4,810.3 1457.6,818.6 1462.4,820.2 1467.6,801.9 1472.8,782.8 1478.0,773.9 1483.2,777.6 1488.4,785.3 1493.6,791.5 1498.8,792.0 1504.0,786.3 1509.2,784.7 1514.4,793.2 1519.6,802.6 1524.8,804.4 1530.0,799.4 1535.2,797.4 1540.4,799.2 1545.6,798.2 1550.8,796.1 1556.0,797.8 1561.2,801.9 1566.4,809.2 1571.6,816.9 1576.2,814.8 1581.4,809.2 1586.6,814.4 1591.8,824.8 1597.0,830.0 1602.2,821.7 1607.4,805.1 1612.5,791.5 1617.7,789.9 1622.9,795.7 1628.1,800.3 1633.3,797.8 1638.5,794.2 1643.3,792.1 1648.3,791.2 1653.5,794.6 1658.4,800.7 1663.6,807.3 1668.6,814.7 1673.8,815.0 1679.2,804.6 1684.4,800.5 1689.6,809.3 1694.8,817.7 1700.0,814.3 1705.2,806.4 1710.4,803.7 1715.4,801.9 1720.6,798.7 1725.8,797.8 1730.8,798.5 1736.0,796.2 1741.2,790.6 1746.6,786.0 1751.6,785.6 1756.8,787.6 1762.0,789.9 1767.2,790.6 1772.1,793.3 1777.5,799.1 1782.7,804.1 1787.9,812.0 1793.1,820.8 1798.3,820.2 1803.5,809.8 1808.3,801.2 1813.7,804.6 1818.9,813.6 1824.1,814.5 1829.3,806.4 1834.5,799.6 1839.5,796.4 1844.5,795.3 1849.9,797.8 1855.1,799.8 1860.1,792.4 1865.3,784.2 1870.5,785.6 1875.7,793.3 1880.6,800.0 1886.0,803.0 1891.2,800.7 1896.4,803.4 1901.6,813.2 1906.8,815.2 1911.8,810.2 1917.0,814.1 1922.2,817.2 1927.4,810.4 1932.6,806.8 1937.8,805.7 1942.8,805.7 1948.0,810.4 1953.0,805.9 1958.4,789.4 1963.6,783.3 1968.8,789.0 1974.0,787.6 1979.0,785.6 1984.2,792.8 1989.3,792.4 1994.3,781.5 1999.7,785.1 2004.7,802.5 2009.9,806.4 2015.1,796.2 2020.3,795.8 2025.5,806.4 2030.7,810.9 2035.9,808.0 2041.1,806.4 2046.1,806.6 2051.3,807.3 2056.5,806.8 2061.7,804.1 2066.9,804.8 2072.1,812.0 2077.3,813.6 2082.5,803.0 2087.5,794.4 2092.6,797.3 2097.8,802.8 2103.0,800.9 2108.2,798.0 2112.3,796.4"/>
<polyline id="r6" points="304.2,913.6 311.4,914.2 317.1,919.2 322.3,913.6 327.5,902.2 332.6,904.3 337.8,913.6 343.0,920.5 348.2,923.4 353.4,917.8 358.6,907.8 363.8,908.4 369.0,916.3 374.2,914.2 379.0,907.8 384.2,909.9 389.4,913.0 394.6,915.1 399.8,922.6 405.0,925.5 410.2,914.7 415.0,905.7 420.2,906.1 425.4,912.6 430.6,916.3 435.8,914.0 441.0,910.9 446.2,910.7 451.4,911.3 456.6,914.0 461.8,920.7 467.0,918.4 472.2,907.8 477.4,910.5 482.6,920.5 487.8,917.2 493.0,905.9 498.2,908.8 503.4,922.4 508.6,924.6 513.8,914.7 518.6,907.0 523.8,911.5 529.0,921.3 534.2,919.4 539.4,909.1 544.6,907.8 549.8,914.5 555.0,914.0 560.2,908.0 565.4,911.5 570.6,919.7 575.8,915.1 580.5,908.4 585.7,911.5 590.9,918.4 596.1,917.8 601.3,913.6 606.5,914.7 611.7,917.6 616.9,914.2 621.7,910.9 626.9,913.6 632.1,916.1 637.9,915.3 643.1,916.3 647.7,910.5 652.9,903.2 658.1,908.8 663.3,917.2 668.5,913.6 673.7,909.7 678.9,911.5 684.1,911.8 689.3,913.0 694.5,915.3 699.3,908.4 704.5,896.4 709.7,902.6 714.9,924.0 720.1,930.3 725.3,915.7 730.5,906.8 735.7,913.6 740.9,923.6 746.1,928.6 751.3,924.6 756.5,912.6 761.4,903.9 766.6,902.2 771.8,910.5 777.0,916.7 782.2,914.2 787.4,912.0 792.6,912.2 797.8,908.0 802.4,903.9 808.0,908.0 813.2,917.0 818.4,916.3 823.2,911.1 828.4,915.3 833.6,919.4 838.8,915.7 844.0,911.1 848.8,907.0 854.0,907.0 859.2,914.7 864.4,917.2 869.6,914.7 874.8,917.8 880.4,919.0 885.6,913.6 890.8,914.7 895.6,919.2 900.8,913.0 905.7,904.9 910.9,911.5 916.1,922.8 921.3,923.2 926.5,918.4 931.7,918.2 936.9,922.8 942.1,927.1 947.3,925.1 952.5,916.3 957.7,910.9 962.9,913.2 968.1,914.0 973.3,908.8 978.5,904.3 983.7,903.2 988.5,901.4 993.7,900.1 998.9,906.1 1004.1,915.3 1009.3,916.7 1014.5,912.2 1019.7,914.0 1024.9,918.8 1030.1,919.0 1035.3,915.7 1040.5,913.6 1045.7,915.1 1050.9,917.4 1056.1,915.7 1061.3,911.5 1066.5,908.4 1071.7,907.0 1076.9,909.9 1081.7,912.2 1086.9,910.1 1092.1,910.5 1097.3,910.7 1102.5,900.5 1107.7,891.0 1112.9,891.2 1118.1,892.4 1123.3,889.7 1128.5,889.7 1133.7,896.6 1138.9,911.5 1144.1,933.4 1148.6,947.9 1153.8,950.0 1159.0,945.9 1164.2,948.6 1169.4,958.3 1174.6,970.2 1179.8,975.6 1185.0,970.4 1190.2,963.5 1195.4,955.2 1200.0,939.6 1205.6,918.8 1210.8,899.5 1216.0,885.6 1221.2,873.5 1226.4,866.4 1231.6,864.1 1236.8,861.4 1242.0,862.7 1246.5,865.2 1251.7,864.5 1257.4,871.6 1262.6,886.6 1267.8,897.6 1273.0,900.7 1278.2,901.1 1283.4,904.3 1288.1,909.1 1293.3,907.8 1298.5,905.9 1303.7,914.7 1308.9,922.4 1314.1,923.0 1319.3,926.1 1324.5,928.0 1329.7,921.7 1334.5,922.6 1339.7,936.5 1344.9,952.1 1350.1,952.1 1355.3,938.6 1360.5,931.5 1365.7,935.9 1370.9,933.4 1376.1,923.6 1381.3,918.2 1386.5,911.5 1391.7,901.1 1396.9,900.5 1402.1,907.6 1407.3,909.1 1412.5,904.7 1417.7,905.1 1422.9,913.6 1428.1,922.4 1433.3,924.0 1438.5,919.9 1443.7,918.8 1448.9,920.5 1454.1,921.3 1459.3,925.3 1463.9,928.0 1469.1,924.2 1474.3,923.6 1479.5,921.5 1484.7,906.3 1489.9,896.6 1495.1,897.8 1500.3,894.1 1505.5,884.1 1510.7,880.4 1515.8,881.8 1521.0,886.6 1526.2,893.0 1531.4,894.5 1536.2,893.9 1541.4,905.3 1546.6,919.9 1551.8,922.6 1557.0,917.6 1562.2,919.4 1567.4,926.1 1572.6,933.4 1577.8,939.0 1583.0,938.6 1588.2,932.3 1593.4,927.1 1598.6,925.5 1603.8,923.4 1609.0,916.1 1614.2,905.7 1619.4,899.7 1624.6,900.3 1629.8,909.1 1635.0,917.4 1640.0,917.8 1644.4,912.1 1649.4,907.6 1654.6,911.9 1660.0,921.9 1665.2,931.6 1670.4,935.4 1675.6,930.0 1680.6,925.0 1685.8,925.9 1691.2,925.0 1696.4,917.8 1701.8,908.3 1707.0,905.1 1712.2,911.9 1717.2,915.5 1722.2,902.6 1727.4,887.5 1732.6,886.4 1737.8,896.5 1742.7,898.6 1747.9,894.7 1753.4,897.0 1758.3,899.5 1763.5,899.5 1768.7,901.5 1773.9,904.7 1779.4,913.3 1784.3,927.5 1789.5,936.5 1794.5,935.0 1799.7,928.2 1804.9,923.0 1809.9,919.6 1815.1,917.3 1820.3,918.2 1825.5,920.5 1830.7,917.3 1835.9,911.2 1841.1,913.5 1846.0,918.9 1851.0,916.9 1856.2,912.1 1861.9,907.6 1867.1,905.8 1872.0,909.0 1877.2,910.8 1882.2,908.3 1887.4,907.6 1892.6,908.5 1898.0,910.3 1903.0,913.9 1908.2,918.5 1913.4,922.5 1918.6,927.5 1923.8,932.9 1929.0,931.1 1934.2,921.9 1939.2,917.8 1944.4,923.4 1949.6,929.1 1954.8,925.7 1959.7,914.4 1965.2,908.5 1970.4,913.5 1975.6,915.5 1980.5,906.5 1985.7,898.1 1990.9,898.3 1996.4,899.0 2001.3,899.2 2006.5,902.6 2011.7,905.6 2016.9,903.1 2021.9,898.8 2027.1,899.9 2032.3,908.3 2037.5,921.9 2042.7,928.9 2047.7,918.5 2052.9,906.3 2058.1,906.5 2063.5,912.8 2068.7,920.7 2073.7,929.1 2078.9,928.9 2084.1,918.5 2089.3,907.6 2094.2,906.0 2099.2,915.8 2104.4,918.5 2109.6,911.7 2112.3,910.6"/>
<polyline id="r7" points="304.2,1009.5 306.9,1010.1 312.1,1017.4 317.3,1022.2 322.5,1014.7 327.7,1011.8 332.9,1024.2 337.8,1033.0 343.0,1023.0 348.2,1018.4 353.4,1034.0 358.6,1046.9 363.4,1028.8 368.6,1012.2 373.8,1016.8 379.0,1013.6 384.2,1011.1 389.4,1028.8 394.6,1043.0 399.8,1036.1 405.0,1033.0 410.2,1044.4 415.4,1046.7 420.2,1034.0 425.4,1030.5 430.6,1036.5 435.8,1033.6 441.0,1024.2 446.2,1017.0 451.4,1011.1 456.6,1011.1 461.8,1030.9 467.0,1050.0 472.2,1039.2 477.4,1016.8 482.6,1011.6 487.8,1011.1 493.0,1004.9 497.6,1010.5 502.8,1034.4 508.0,1044.4 513.2,1032.4 518.4,1026.7 523.6,1027.8 528.8,1014.7 534.0,1005.3 539.2,1024.7 544.3,1038.8 549.5,1027.8 554.7,1018.0 559.9,1017.8 565.1,1015.9 570.3,1020.9 575.5,1030.3 580.7,1025.7 585.9,1017.8 591.1,1022.6 596.3,1030.3 601.5,1030.9 606.7,1028.4 611.9,1032.4 617.1,1040.3 621.9,1049.0 627.1,1048.6 632.3,1031.9 637.5,1015.9 642.7,1021.5 647.9,1036.7 653.1,1034.0 658.3,1016.3 663.5,1018.8 668.7,1030.3 673.9,1013.2 678.9,994.9 684.1,1008.0 689.3,1033.6 694.5,1046.1 699.3,1036.1 704.5,1016.8 709.7,1022.0 714.9,1045.0 720.1,1040.3 725.3,1008.7 730.5,1000.3 735.7,1030.9 740.5,1053.8 745.7,1038.2 750.8,1013.9 756.0,1004.9 761.4,1005.3 766.6,1013.2 771.8,1027.8 777.0,1037.1 782.2,1029.2 787.4,1011.1 792.4,998.3 797.6,999.7 802.8,1015.3 807.6,1028.4 812.8,1026.3 818.0,1031.3 823.2,1048.0 828.4,1042.8 833.6,1024.2 838.8,1023.2 844.0,1028.0 849.2,1028.2 854.4,1036.1 859.6,1039.0 864.8,1014.3 869.6,993.1 875.2,1012.2 880.0,1043.0 885.2,1051.3 890.4,1036.1 895.6,1025.3 900.8,1037.6 905.9,1047.1 911.1,1031.9 916.3,1022.6 921.5,1032.6 926.7,1034.2 931.9,1015.7 937.1,1006.4 942.3,1027.8 947.3,1055.2 952.5,1053.2 957.7,1021.5 962.9,1000.3 968.1,1020.5 973.3,1053.4 978.5,1039.8 983.3,1001.2 988.5,999.7 993.7,1037.1 998.9,1049.2 1004.1,1028.4 1009.3,1029.9 1014.5,1035.7 1019.7,1007.0 1024.9,987.9 1030.1,999.3 1035.3,1004.9 1040.5,1012.2 1045.7,1030.9 1050.5,1030.3 1055.7,1010.7 1060.9,1004.5 1066.1,1012.2 1071.3,1014.7 1076.5,1017.8 1081.7,1038.2 1086.9,1061.1 1092.1,1044.4 1096.9,1016.3 1102.5,1024.7 1107.7,1040.9 1112.9,1023.6 1118.1,1005.9 1123.3,1014.3 1128.5,1026.7 1133.7,1007.0 1138.9,993.5 1144.1,1021.5 1148.6,1074.6 1153.8,1087.7 1159.0,1056.9 1164.2,1041.3 1169.4,1051.1 1174.6,1061.3 1179.8,1054.2 1184.6,1040.3 1189.8,1025.7 1195.0,1012.6 1200.0,1009.5 1205.6,1004.5 1210.8,981.0 1215.8,973.1 1221.0,984.1 1226.2,983.5 1231.4,980.0 1236.6,986.2 1241.8,994.1 1247.0,1005.9 1252.2,1027.8 1257.4,1044.0 1262.6,1041.9 1267.3,1041.3 1272.5,1056.9 1277.7,1062.5 1282.9,1055.2 1288.1,1052.7 1293.3,1037.1 1298.5,1012.2 1303.7,1009.3 1308.9,1019.5 1314.1,1021.1 1319.3,1025.1 1324.5,1039.2 1329.7,1053.8 1334.9,1062.1 1340.1,1071.0 1345.3,1080.8 1350.5,1075.6 1355.7,1050.7 1360.5,1027.4 1365.7,1025.1 1370.9,1022.2 1376.1,995.6 1381.1,977.5 1386.3,992.4 1391.5,1012.8 1396.7,1016.3 1401.9,1015.3 1407.1,1025.3 1412.3,1034.0 1417.5,1019.5 1422.7,993.9 1427.5,993.9 1432.7,1021.5 1437.9,1040.3 1443.1,1028.8 1448.3,1013.2 1453.5,1009.7 1458.7,1020.7 1463.9,1041.3 1469.1,1050.2 1474.3,1031.9 1479.5,1021.1 1484.7,1035.7 1489.9,1041.3 1495.1,1025.7 1500.3,1015.9 1505.5,1024.7 1510.7,1037.8 1515.4,1049.6 1520.6,1051.5 1525.8,1036.1 1531.0,1024.7 1536.2,1030.7 1541.4,1033.4 1546.6,1022.6 1551.8,1013.6 1557.0,1007.6 1562.0,1002.6 1567.2,1010.1 1572.4,1033.0 1577.6,1044.8 1582.8,1019.5 1588.0,986.8 1593.2,993.5 1598.0,1022.6 1603.2,1023.6 1608.4,1008.7 1613.6,1015.9 1618.8,1027.2 1624.0,1019.1 1629.2,1022.2 1634.4,1042.8 1639.6,1056.9 1644.4,1054.0 1649.4,1049.3 1654.6,1056.0 1660.0,1050.6 1665.2,1017.2 1670.4,1000.7 1675.6,1022.8 1680.6,1045.9 1685.8,1052.0 1691.2,1047.9 1696.4,1024.6 1701.4,1002.2 1707.0,1010.4 1712.0,1031.4 1717.2,1030.7 1722.2,1005.9 1727.4,978.7 1732.6,977.2 1737.5,1007.4 1742.7,1023.5 1747.9,1008.1 1753.1,1004.1 1758.3,1023.9 1763.5,1040.9 1768.7,1041.3 1773.9,1036.4 1779.1,1033.4 1784.3,1030.9 1789.5,1024.6 1794.5,1019.9 1799.7,1026.2 1804.7,1033.4 1809.9,1028.0 1815.1,1019.0 1820.3,1025.1 1825.5,1040.2 1830.7,1034.6 1835.9,1009.9 1841.1,1012.9 1846.0,1047.2 1851.2,1060.8 1856.4,1029.6 1861.6,1005.4 1866.8,1019.4 1872.0,1033.0 1877.0,1026.9 1882.2,1039.3 1887.4,1057.4 1892.6,1039.8 1897.8,1012.2 1903.0,1007.4 1908.2,1014.4 1913.4,1018.1 1918.6,1014.7 1923.6,1002.5 1929.0,994.1 1934.2,1014.9 1939.2,1049.9 1944.4,1058.8 1949.6,1033.0 1954.8,1016.0 1959.7,1034.1 1965.2,1053.1 1970.1,1038.6 1975.3,1012.2 1980.5,1016.5 1985.7,1036.6 1990.7,1036.8 1995.9,1023.5 2001.1,1013.3 2006.3,1010.2 2011.5,1013.1 2016.7,1011.1 2021.9,1010.6 2027.1,1022.6 2032.3,1027.8 2037.5,1019.9 2042.7,1009.2 2047.4,990.7 2052.9,996.1 2058.1,1043.2 2063.0,1063.5 2068.2,1031.9 2073.2,1006.3 2078.4,1027.3 2083.6,1057.8 2089.0,1058.3 2094.0,1032.3 2099.2,1022.1 2104.4,1037.5 2109.6,1042.0 2112.3,1036.4"/>
<polyline id="r8" points="304.2,1139.4 306.7,1140.2 309.3,1140.7 311.9,1141.0 314.5,1141.1 317.1,1141.1 319.6,1140.8 322.2,1140.1 324.8,1139.3 327.4,1138.2 330.0,1136.9 332.5,1136.2 335.1,1135.7 337.7,1135.5 340.3,1135.7 342.9,1136.2 345.4,1136.7 348.0,1137.1 350.6,1137.5 353.2,1137.9 355.8,1138.3 358.3,1139.0 360.9,1139.8 363.5,1140.7 366.1,1141.3 368.7,1141.6 371.2,1141.8 373.8,1141.9 376.4,1141.6 379.0,1140.9 381.6,1140.2 384.1,1139.7 386.7,1139.4 389.3,1139.2 391.9,1138.9 394.5,1138.8 397.0,1138.6 399.6,1138.4 402.2,1138.3 404.8,1138.2 407.4,1138.3 409.9,1138.7 412.5,1139.3 415.1,1139.8 417.7,1139.8 420.3,1139.6 422.8,1139.2 425.4,1138.8 428.0,1138.5 430.6,1138.1 433.2,1137.7 435.7,1137.4 438.3,1137.4 440.9,1137.9 443.5,1138.6 446.1,1139.1 448.6,1139.5 451.2,1139.8 453.8,1139.9 456.4,1139.8 459.0,1139.6 461.5,1139.5 464.1,1139.3 466.7,1139.1 469.3,1138.9 471.9,1138.1 474.4,1136.9 477.0,1135.6 479.6,1134.2 482.2,1132.9 484.8,1132.1 487.3,1131.6 489.9,1131.6 492.5,1132.0 495.1,1132.4 497.7,1132.6 500.2,1132.5 502.8,1132.3 505.4,1132.1 508.0,1132.0 510.6,1132.0 513.1,1132.0 515.7,1132.1 518.3,1132.2 520.9,1132.4 523.5,1133.0 526.0,1133.6 528.6,1134.2 531.2,1134.7 533.8,1135.2 536.4,1135.8 538.9,1136.6 541.5,1137.8 544.1,1139.1 546.7,1140.4 549.3,1141.6 551.8,1142.1 554.4,1142.4 557.0,1142.6 559.6,1142.8 562.2,1142.9 564.7,1143.0 567.3,1143.1 569.9,1143.2 572.5,1143.2 575.1,1143.1 577.6,1142.9 580.2,1142.7 582.8,1142.6 585.4,1142.6 588.0,1142.7 590.5,1142.7 593.1,1142.8 595.7,1142.4 598.3,1141.6 600.9,1141.0 603.4,1140.2 606.0,1139.6 608.6,1139.1 611.2,1138.9 613.8,1138.6 616.3,1138.4 618.9,1138.0 621.5,1137.7 624.1,1137.2 626.7,1136.6 629.2,1135.9 631.8,1135.4 634.4,1135.2 637.0,1135.2 639.6,1135.2 642.1,1135.1 644.7,1134.8 647.3,1133.9 649.9,1133.4 652.5,1133.0 655.0,1133.2 657.6,1134.0 660.2,1134.8 662.8,1135.7 665.4,1136.3 667.9,1136.3 670.5,1136.3 673.1,1136.3 675.7,1136.4 678.3,1136.5 680.8,1137.2 683.4,1138.4 686.0,1139.7 688.6,1141.1 691.2,1141.1 693.7,1139.9 696.3,1137.3 698.9,1133.3 701.5,1131.6 704.1,1130.8 706.6,1132.1 709.2,1136.5 711.8,1140.4 714.4,1143.9 717.0,1144.2 719.5,1143.8 722.1,1142.8 724.7,1140.6 727.3,1138.9 729.9,1137.7 732.4,1137.0 735.0,1136.6 737.6,1136.5 740.2,1136.6 742.8,1136.7 745.3,1136.7 747.9,1136.6 750.5,1136.3 753.1,1136.1 755.7,1136.1 758.2,1136.2 760.8,1136.3 763.4,1136.9 766.0,1138.8 768.6,1140.4 771.1,1141.8 773.7,1142.3 776.3,1142.5 778.9,1142.5 781.5,1142.4 784.0,1142.1 786.6,1141.7 789.2,1141.3 791.8,1140.5 794.4,1139.7 796.9,1139.1 799.5,1139.0 802.1,1139.1 804.7,1139.3 807.3,1139.7 809.8,1140.3 812.4,1140.8 815.0,1140.7 817.6,1139.5 820.2,1137.4 822.7,1134.2 825.3,1132.2 827.9,1130.9 830.5,1131.2 833.1,1133.6 835.6,1136.1 838.2,1138.8 840.8,1139.1 843.4,1138.6 846.0,1137.4 848.5,1134.5 851.1,1131.8 853.7,1129.1 856.3,1128.8 858.9,1129.7 861.4,1131.2 864.0,1134.2 866.6,1136.9 869.2,1139.4 871.8,1139.8 874.3,1139.4 876.9,1138.6 879.5,1137.3 882.1,1137.0 884.7,1137.0 887.2,1137.2 889.8,1138.8 892.4,1140.5 895.0,1142.0 897.6,1142.7 900.1,1142.9 902.7,1142.8 905.3,1141.4 907.9,1139.7 910.5,1137.8 913.0,1136.0 915.6,1134.5 918.2,1133.2 920.8,1132.1 923.4,1131.8 925.9,1131.8 928.5,1132.2 931.1,1134.5 933.7,1137.7 936.3,1142.3 938.8,1145.7 941.4,1147.6 944.0,1147.6 946.6,1145.4 949.2,1142.6 951.7,1139.1 954.3,1137.1 956.9,1136.0 959.5,1135.6 962.1,1135.5 964.6,1135.4 967.2,1135.3 969.8,1135.1 972.4,1134.9 975.0,1135.0 977.5,1136.2 980.1,1137.9 982.7,1140.4 985.3,1142.8 987.9,1145.4 990.4,1146.1 993.0,1145.6 995.6,1144.6 998.2,1141.9 1000.8,1139.0 1003.3,1136.0 1005.9,1134.4 1008.5,1133.6 1011.1,1133.5 1013.7,1134.4 1016.2,1135.6 1018.8,1136.5 1021.4,1137.5 1024.0,1138.5 1026.6,1139.5 1029.1,1140.6 1031.7,1140.9 1034.3,1140.9 1036.9,1140.8 1039.5,1139.5 1042.0,1138.0 1044.6,1136.6 1047.2,1136.1 1049.8,1136.5 1052.4,1137.3 1054.9,1139.2 1057.5,1141.1 1060.1,1142.9 1062.7,1143.6 1065.3,1143.5 1067.8,1143.1 1070.4,1141.8 1073.0,1140.4 1075.6,1139.4 1078.2,1139.0 1080.7,1139.1 1083.3,1139.2 1085.9,1139.2 1088.5,1139.1 1091.1,1138.9 1093.6,1138.9 1096.2,1139.2 1098.8,1139.6 1101.4,1139.8 1104.0,1140.0 1106.5,1140.1 1109.1,1139.7 1111.7,1138.8 1114.3,1137.7 1116.9,1136.5 1119.4,1136.0 1122.0,1135.7 1124.6,1135.9 1127.2,1136.6 1129.8,1137.3 1132.3,1138.1 1134.9,1138.2 1137.5,1138.0 1140.1,1137.6 1142.7,1135.9 1145.2,1133.5 1147.8,1130.1 1150.4,1126.3 1153.0,1122.0 1155.6,1118.1 1158.1,1114.5 1160.7,1111.8 1163.3,1109.8 1165.9,1109.1 1168.5,1109.2 1171.0,1109.4 1173.6,1111.6 1176.2,1114.4 1178.8,1117.4 1181.4,1120.7 1183.9,1124.3 1186.5,1128.1 1189.1,1132.1 1191.7,1136.4 1194.3,1140.8 1196.8,1145.9 1199.4,1152.1 1202.0,1158.2 1204.6,1164.0 1207.2,1169.1 1209.7,1173.6 1212.3,1177.1 1214.9,1180.2 1217.5,1180.8 1220.1,1180.6 1222.6,1179.9 1225.2,1176.7 1227.8,1172.4 1230.4,1166.4 1233.0,1160.7 1235.5,1155.3 1238.1,1150.8 1240.7,1146.9 1243.3,1144.3 1245.9,1142.4 1248.4,1142.0 1251.0,1142.8 1253.6,1144.1 1256.2,1146.0 1258.8,1146.7 1261.3,1146.7 1263.9,1146.5 1266.5,1143.8 1269.1,1139.8 1271.7,1134.2 1274.2,1127.8 1276.8,1120.7 1279.4,1113.1 1282.0,1104.9 1284.6,1097.3 1287.1,1090.3 1289.7,1084.8 1292.3,1080.0 1294.9,1077.7 1297.5,1077.0 1300.0,1077.3 1302.6,1081.2 1305.2,1086.4 1307.8,1093.5 1310.4,1101.4 1312.9,1109.8 1315.5,1117.9 1318.1,1125.8 1320.7,1133.1 1323.3,1139.9 1325.8,1146.1 1328.4,1151.9 1331.0,1157.2 1333.6,1162.0 1336.2,1166.7 1338.7,1171.2 1341.3,1175.4 1343.9,1179.2 1346.5,1182.2 1349.1,1184.8 1351.6,1185.6 1354.2,1185.4 1356.8,1184.8 1359.4,1182.6 1362.0,1180.0 1364.5,1177.1 1367.1,1174.0 1369.7,1170.5 1372.3,1167.1 1374.9,1163.5 1377.4,1160.1 1380.0,1156.7 1382.6,1153.2 1385.2,1149.6 1387.8,1145.9 1390.3,1142.0 1392.9,1138.0 1395.5,1134.0 1398.1,1130.0 1400.7,1126.2 1403.2,1121.9 1405.8,1116.7 1408.4,1111.4 1411.0,1106.0 1413.6,1101.4 1416.1,1097.4 1418.7,1094.6 1421.3,1092.7 1423.9,1092.1 1426.5,1092.8 1429.0,1094.0 1431.6,1096.6 1434.2,1100.0 1436.8,1104.1 1439.4,1108.4 1441.9,1112.6 1444.5,1116.5 1447.1,1120.0 1449.7,1123.3 1452.3,1126.3 1454.8,1129.2 1457.4,1132.3 1460.0,1135.5 1462.6,1138.8 1465.2,1142.3 1467.7,1145.8 1470.3,1149.6 1472.9,1153.7 1475.5,1157.8 1478.1,1161.7 1480.6,1165.0 1483.2,1167.7 1485.8,1169.7 1488.4,1171.0 1491.0,1171.7 1493.5,1171.5 1496.1,1171.1 1498.7,1169.9 1501.3,1167.9 1503.9,1165.6 1506.4,1162.8 1509.0,1160.1 1511.6,1157.2 1514.2,1154.3 1516.8,1151.4 1519.3,1149.1 1521.9,1146.9 1524.5,1144.5 1527.1,1141.8 1529.7,1138.4 1532.2,1134.6 1534.8,1130.8 1537.4,1127.1 1540.0,1123.9 1542.6,1121.4 1545.1,1119.9 1547.7,1119.1 1550.3,1119.2 1552.9,1119.6 1555.5,1120.4 1558.0,1121.6 1560.6,1122.7 1563.2,1124.0 1565.8,1125.5 1568.4,1127.1 1570.9,1128.5 1573.5,1129.7 1576.1,1130.5 1578.7,1131.3 1581.3,1132.4 1583.8,1133.7 1586.4,1135.2 1589.0,1136.8 1591.6,1138.1 1594.2,1139.2 1596.7,1139.9 1599.3,1140.3 1601.9,1140.2 1604.5,1139.8 1607.1,1139.3 1609.6,1138.8 1612.2,1138.3 1614.8,1137.6 1617.4,1136.9 1620.0,1136.2 1622.5,1135.3 1625.1,1134.5 1627.7,1133.8 1630.3,1133.7 1632.9,1134.0 1635.4,1134.5 1638.0,1135.6 1640.6,1136.5 1643.2,1137.0 1645.8,1137.0 1648.3,1136.3 1650.9,1135.3 1653.5,1134.4 1656.1,1133.2 1658.7,1132.3 1661.2,1131.4 1663.8,1130.7 1666.4,1130.6 1669.0,1131.4 1671.6,1132.5 1674.1,1134.7 1676.7,1137.5 1679.3,1140.0 1681.9,1142.5 1684.5,1144.8 1687.0,1146.8 1689.6,1148.7 1692.2,1150.5 1694.8,1152.3 1697.4,1153.9 1699.9,1155.4 1702.5,1156.7 1705.1,1157.2 1707.7,1157.2 1710.3,1157.0 1712.8,1156.2 1715.4,1154.5 1718.0,1152.5 1720.6,1150.0 1723.2,1146.9 1725.7,1142.6 1728.3,1137.7 1730.9,1133.0 1733.5,1128.7 1736.1,1125.0 1738.6,1122.0 1741.2,1119.9 1743.8,1118.1 1746.4,1116.3 1749.0,1114.5 1751.5,1112.8 1754.1,1111.5 1756.7,1110.5 1759.3,1110.3 1761.9,1111.4 1764.4,1113.2 1767.0,1116.4 1769.6,1119.7 1772.2,1122.6 1774.8,1125.5 1777.3,1128.4 1779.9,1131.4 1782.5,1135.0 1785.1,1139.0 1787.7,1143.2 1790.2,1147.7 1792.8,1151.9 1795.4,1155.6 1798.0,1159.1 1800.6,1162.0 1803.1,1164.6 1805.7,1166.7 1808.3,1168.2 1810.9,1169.4 1813.5,1169.9 1816.0,1169.2 1818.6,1168.0 1821.2,1166.4 1823.8,1164.1 1826.4,1161.5 1828.9,1158.5 1831.5,1155.0 1834.1,1150.9 1836.7,1145.9 1839.3,1140.7 1841.8,1135.5 1844.4,1130.5 1847.0,1125.8 1849.6,1122.1 1852.2,1119.1 1854.7,1116.8 1857.3,1115.0 1859.9,1113.6 1862.5,1113.0 1865.1,1112.6 1867.6,1112.5 1870.2,1113.1 1872.8,1114.1 1875.4,1116.0 1878.0,1118.5 1880.5,1120.5 1883.1,1122.3 1885.7,1123.8 1888.3,1125.1 1890.9,1126.4 1893.4,1127.8 1896.0,1129.4 1898.6,1131.2 1901.2,1133.5 1903.8,1136.1 1906.3,1138.9 1908.9,1142.1 1911.5,1145.3 1914.1,1148.5 1916.7,1151.6 1919.2,1153.8 1921.8,1155.5 1924.4,1156.1 1927.0,1156.1 1929.6,1156.1 1932.1,1156.0 1934.7,1155.8 1937.3,1155.4 1939.9,1155.3 1942.5,1155.1 1945.0,1154.9 1947.6,1153.9 1950.2,1152.6 1952.8,1151.0 1955.4,1148.8 1957.9,1146.4 1960.5,1143.4 1963.1,1140.2 1965.7,1137.5 1968.3,1135.2 1970.8,1133.2 1973.4,1131.9 1976.0,1130.6 1978.6,1128.2 1981.2,1125.0 1983.7,1120.6 1986.3,1116.9 1988.9,1115.0 1991.5,1114.3 1994.1,1116.9 1996.6,1120.7 1999.2,1124.5 2001.8,1128.0 2004.4,1130.9 2007.0,1133.4 2009.5,1135.4 2012.1,1137.2 2014.7,1138.6 2017.3,1139.9 2019.9,1140.9 2022.4,1141.4 2025.0,1141.7 2027.6,1141.9 2030.2,1141.6 2032.8,1140.9 2035.3,1140.1 2037.9,1139.1 2040.5,1138.1 2043.1,1137.8 2045.7,1138.1 2048.2,1138.6 2050.8,1139.2 2053.4,1139.7 2056.0,1140.2 2058.6,1140.7 2061.1,1141.1 2063.7,1141.5 2066.3,1141.8 2068.9,1142.3 2071.5,1142.8 2074.0,1143.0 2076.6,1142.6 2079.2,1142.0 2081.8,1141.2 2084.4,1139.7 2086.9,1138.2 2089.5,1137.2 2092.1,1136.7 2094.7,1136.3 2097.3,1135.9 2099.8,1135.5 2102.4,1135.1 2105.0,1134.6 2107.6,1134.1 2110.2,1133.5 2112.3,1133.0"/>
<polyline id="r9" points="304.2,1253.8 306.2,1260.1 311.4,1264.2 316.2,1249.7 321.4,1236.6 326.6,1239.3 331.8,1247.2 337.0,1252.8 342.2,1258.2 347.4,1262.6 352.6,1260.7 357.8,1253.8 363.0,1246.5 368.2,1240.1 373.4,1238.9 378.6,1247.2 383.8,1257.6 389.0,1262.1 394.2,1256.5 399.4,1247.6 404.6,1242.6 409.8,1244.1 415.0,1251.7 420.2,1259.2 425.4,1259.0 430.6,1255.5 435.8,1251.3 441.0,1242.4 445.6,1237.8 450.8,1245.5 456.0,1253.4 461.2,1256.5 466.4,1255.5 471.6,1249.0 476.8,1241.8 482.0,1240.3 487.2,1245.5 492.4,1254.9 497.6,1263.8 502.8,1262.1 508.0,1248.6 513.2,1238.9 518.4,1236.1 523.6,1238.9 528.8,1251.7 534.0,1264.8 539.2,1268.6 544.3,1256.9 549.5,1244.5 554.7,1238.6 559.9,1240.3 565.1,1249.7 570.3,1261.5 575.5,1268.0 580.7,1263.8 585.9,1246.5 590.7,1229.9 595.9,1227.4 601.1,1244.5 606.3,1263.2 611.5,1264.6 616.7,1251.7 621.9,1241.8 627.1,1240.7 632.3,1247.0 637.5,1253.4 642.7,1256.5 647.9,1254.2 653.1,1249.7 658.3,1248.2 663.5,1249.7 668.7,1249.0 673.9,1247.0 679.1,1250.1 684.3,1263.6 688.9,1268.8 694.1,1248.6 699.3,1229.5 704.5,1235.5 709.7,1252.0 714.9,1256.5 720.1,1254.4 725.3,1259.0 730.5,1260.1 735.3,1246.5 740.5,1240.5 745.7,1245.1 750.8,1243.8 756.0,1245.7 760.8,1256.5 766.0,1252.2 771.2,1229.9 776.4,1223.7 781.6,1241.3 786.8,1253.4 792.0,1250.1 797.2,1250.3 802.4,1259.2 807.6,1258.6 812.8,1245.9 818.0,1238.9 823.2,1246.5 828.4,1258.6 833.6,1264.8 838.8,1262.6 844.0,1251.3 848.6,1240.9 853.8,1245.9 859.0,1259.6 864.2,1266.7 869.3,1264.2 874.5,1260.5 879.7,1255.9 884.9,1248.6 890.1,1240.3 895.3,1236.6 900.5,1243.0 905.7,1251.5 910.9,1247.0 916.1,1229.9 920.9,1219.5 926.1,1227.8 931.3,1249.7 936.5,1269.0 941.7,1271.5 946.9,1258.0 952.1,1246.1 957.3,1242.4 962.5,1241.3 967.7,1243.4 972.9,1250.3 978.1,1258.0 983.3,1266.3 988.5,1271.5 993.7,1258.6 998.9,1233.7 1003.7,1228.2 1008.9,1247.2 1014.1,1263.2 1019.3,1258.6 1024.5,1253.4 1029.7,1257.4 1034.9,1259.0 1040.1,1256.9 1045.3,1258.6 1050.5,1258.6 1055.7,1253.8 1060.9,1250.7 1066.1,1244.5 1071.3,1230.5 1076.5,1225.8 1081.7,1241.3 1086.9,1258.4 1092.1,1258.6 1097.3,1249.0 1102.5,1243.0 1107.7,1235.7 1112.9,1224.1 1118.1,1221.2 1123.3,1235.1 1128.5,1250.7 1133.7,1253.2 1138.9,1251.7 1143.4,1249.7 1148.6,1244.5 1153.8,1236.8 1159.0,1242.4 1164.2,1260.1 1169.4,1272.1 1174.6,1275.2 1179.8,1277.1 1185.0,1284.0 1190.2,1291.9 1195.4,1296.0 1200.0,1298.1 1205.0,1299.0 1210.2,1289.2 1215.4,1263.2 1220.1,1235.1 1225.3,1215.4 1230.5,1208.7 1235.7,1213.7 1240.9,1221.6 1246.1,1222.6 1251.3,1215.8 1256.5,1212.6 1261.7,1217.0 1266.9,1225.3 1272.1,1238.9 1277.3,1251.7 1281.9,1250.1 1287.1,1235.7 1292.3,1221.6 1297.5,1218.1 1302.7,1224.7 1307.9,1237.2 1313.1,1253.4 1318.3,1269.4 1323.5,1273.6 1328.7,1265.7 1333.9,1259.0 1339.1,1262.8 1344.3,1278.8 1349.5,1298.5 1354.7,1309.3 1359.9,1304.8 1365.1,1293.3 1370.3,1281.9 1375.5,1269.0 1380.3,1257.6 1385.5,1255.3 1390.7,1257.4 1395.9,1251.7 1401.1,1229.9 1406.3,1205.0 1411.2,1188.3 1416.4,1194.1 1421.6,1210.2 1426.8,1224.3 1432.0,1233.7 1437.2,1237.0 1442.4,1231.6 1447.6,1220.6 1452.8,1219.9 1458.0,1238.9 1462.8,1256.5 1468.0,1262.6 1473.2,1266.1 1478.4,1266.3 1483.6,1258.6 1488.8,1260.7 1494.0,1276.3 1499.2,1288.1 1504.4,1283.6 1509.6,1271.5 1514.8,1256.9 1520.0,1240.3 1525.2,1227.8 1530.4,1233.0 1535.6,1250.7 1540.8,1262.1 1546.0,1260.1 1551.2,1253.4 1556.4,1245.5 1561.6,1237.6 1566.8,1236.6 1572.0,1246.5 1576.8,1259.6 1582.0,1264.6 1587.2,1258.6 1592.4,1252.2 1597.6,1250.3 1602.8,1247.6 1608.0,1239.7 1613.2,1233.0 1618.4,1240.3 1623.6,1250.7 1628.8,1241.3 1633.3,1221.6 1638.5,1216.4 1643.7,1234.2 1648.9,1256.9 1654.1,1267.0 1659.6,1256.9 1664.5,1242.2 1669.7,1240.4 1674.9,1252.3 1680.1,1262.1 1685.6,1270.4 1690.5,1281.7 1695.7,1293.0 1700.9,1291.9 1705.9,1274.9 1710.9,1255.7 1716.1,1247.4 1721.3,1253.9 1726.5,1261.4 1731.4,1256.9 1736.6,1243.3 1741.8,1228.6 1747.0,1220.7 1752.2,1215.5 1757.2,1210.3 1762.4,1215.0 1767.6,1232.0 1772.8,1240.6 1777.8,1236.1 1783.0,1230.9 1788.4,1236.5 1793.4,1252.3 1798.6,1270.4 1803.8,1278.3 1809.0,1276.7 1813.9,1277.2 1819.4,1281.9 1824.6,1278.8 1829.8,1269.7 1834.7,1263.2 1839.9,1259.1 1844.9,1258.0 1850.1,1257.3 1855.3,1246.7 1860.5,1228.6 1865.7,1219.6 1870.9,1227.5 1876.1,1239.4 1881.5,1242.2 1886.7,1237.6 1891.9,1236.7 1897.1,1243.7 1902.1,1248.3 1907.1,1242.6 1912.3,1236.7 1917.7,1244.9 1922.9,1260.2 1927.9,1265.2 1933.1,1253.0 1938.3,1243.3 1943.5,1251.2 1948.4,1265.4 1953.9,1269.3 1958.8,1260.7 1964.0,1248.9 1969.2,1239.7 1974.2,1240.1 1979.4,1247.4 1984.4,1242.2 1989.8,1232.0 1995.2,1239.4 2000.2,1252.8 2005.4,1255.7 2010.4,1254.1 2015.6,1255.9 2020.8,1256.2 2026.0,1253.0 2031.4,1255.0 2036.6,1256.9 2041.6,1248.9 2046.8,1243.5 2051.7,1254.6 2056.9,1265.0 2061.9,1261.8 2067.1,1257.5 2072.5,1254.6 2077.7,1251.2 2082.9,1247.4 2087.9,1239.4 2093.1,1232.4 2098.1,1239.9 2103.3,1253.0 2108.2,1255.7 2112.3,1248.9"/>
<polyline id="r10" points="304.2,1360.1 311.4,1358.6 318.7,1360.7 326.0,1362.2 334.3,1360.1 341.6,1359.2 348.9,1361.3 357.2,1363.4 366.5,1362.0 373.8,1363.8 381.1,1365.9 389.4,1367.2 395.7,1365.9 401.9,1364.4 408.1,1365.7 413.3,1366.3 418.5,1364.9 424.8,1361.3 430.0,1358.6 435.2,1357.4 440.4,1358.2 445.6,1360.3 450.8,1360.9 454.9,1360.3 460.1,1361.7 465.3,1364.9 470.5,1366.5 475.7,1364.9 480.9,1361.7 486.1,1360.3 493.4,1361.1 500.7,1362.0 508.0,1363.4 513.2,1364.0 518.4,1363.6 523.6,1363.2 528.8,1363.8 534.0,1362.4 538.1,1360.1 543.3,1359.7 548.5,1362.2 553.7,1364.7 558.9,1364.9 564.1,1363.2 569.3,1360.9 574.5,1359.2 580.7,1358.8 589.1,1359.7 594.3,1363.2 599.9,1368.2 605.1,1364.9 610.3,1352.4 615.5,1341.4 620.7,1343.0 625.9,1355.5 631.1,1367.4 636.3,1370.3 641.5,1363.4 646.2,1357.8 651.4,1361.3 656.6,1369.0 661.8,1373.4 667.0,1370.1 672.2,1364.4 677.4,1362.4 682.6,1365.1 687.8,1367.6 695.1,1367.4 703.4,1366.5 710.7,1364.2 718.0,1362.2 723.2,1359.7 728.4,1358.2 734.6,1359.2 740.9,1360.7 749.2,1363.8 754.4,1362.8 760.8,1358.6 766.0,1355.9 770.8,1355.9 776.0,1359.2 781.2,1362.2 786.4,1361.3 791.6,1360.1 796.8,1361.3 802.0,1363.4 806.5,1363.8 811.7,1361.7 816.9,1359.0 822.1,1358.0 827.3,1360.3 832.5,1364.4 837.7,1366.9 842.9,1366.3 848.1,1363.8 853.3,1361.3 858.5,1359.0 863.7,1357.4 868.9,1357.0 874.1,1360.3 879.3,1364.4 884.5,1366.9 889.7,1368.2 894.9,1368.2 900.1,1366.5 905.3,1363.8 910.5,1360.3 915.7,1357.0 920.5,1356.5 925.7,1360.3 930.9,1364.9 936.1,1368.0 941.3,1367.4 946.5,1363.4 951.7,1358.6 956.3,1357.0 961.5,1359.0 966.7,1361.3 971.9,1360.7 977.1,1358.8 982.3,1359.7 987.5,1362.8 992.7,1364.9 997.9,1361.3 1003.1,1357.0 1008.3,1356.5 1013.5,1361.3 1018.7,1366.3 1023.9,1368.0 1029.1,1366.1 1034.3,1364.2 1040.5,1363.4 1047.8,1363.0 1056.1,1362.8 1063.4,1363.4 1070.7,1364.9 1076.9,1366.9 1082.1,1368.6 1087.3,1369.4 1091.4,1368.6 1096.6,1364.4 1101.8,1358.0 1107.0,1351.8 1112.2,1347.2 1117.4,1342.4 1121.6,1336.8 1126.8,1329.5 1132.0,1325.4 1137.2,1327.4 1142.4,1335.8 1147.6,1349.3 1152.8,1364.9 1158.0,1379.4 1163.2,1394.0 1168.4,1408.5 1173.6,1418.9 1178.8,1423.7 1184.0,1420.0 1189.2,1409.6 1194.4,1397.1 1199.8,1384.2 1205.0,1372.1 1210.2,1357.6 1215.4,1345.1 1220.6,1338.5 1225.8,1337.2 1230.5,1337.2 1235.7,1331.6 1240.9,1318.1 1246.1,1305.0 1251.3,1306.0 1256.5,1321.2 1261.7,1337.8 1266.9,1344.1 1271.5,1343.0 1276.7,1344.7 1281.9,1358.6 1287.1,1381.5 1292.3,1399.2 1297.1,1400.6 1302.3,1390.9 1307.5,1382.5 1312.7,1384.2 1317.9,1386.7 1323.1,1381.5 1328.3,1370.7 1333.5,1361.1 1338.7,1361.1 1343.9,1366.9 1349.1,1370.5 1354.3,1368.4 1359.5,1366.9 1364.7,1370.5 1369.9,1373.2 1375.1,1368.6 1380.3,1360.1 1385.5,1354.5 1390.7,1352.8 1395.9,1352.6 1401.1,1350.3 1406.3,1344.5 1410.8,1339.3 1416.0,1337.2 1421.2,1339.9 1426.4,1346.6 1431.6,1354.1 1436.8,1358.0 1442.0,1359.2 1447.2,1360.5 1452.4,1363.2 1457.6,1366.3 1462.8,1368.8 1468.0,1370.5 1473.2,1372.4 1478.4,1375.3 1483.6,1377.3 1488.8,1377.3 1494.0,1374.6 1499.2,1370.1 1504.4,1364.9 1509.6,1360.7 1514.8,1358.8 1520.0,1357.8 1525.2,1356.1 1530.4,1355.9 1535.6,1359.0 1540.8,1362.8 1546.0,1365.9 1551.2,1367.4 1556.4,1366.9 1561.6,1365.3 1566.8,1364.2 1572.0,1363.8 1577.2,1362.0 1582.4,1358.2 1587.2,1355.5 1592.4,1356.1 1597.6,1362.8 1602.8,1370.1 1608.0,1372.6 1613.2,1369.4 1618.4,1364.9 1623.6,1363.2 1628.8,1364.4 1634.0,1365.5 1640.0,1361.3 1643.3,1355.6 1648.3,1350.1 1653.5,1348.3 1658.9,1349.9 1664.1,1354.4 1669.3,1358.9 1674.2,1361.9 1679.9,1363.5 1685.6,1364.6 1691.2,1365.7 1696.9,1365.3 1703.6,1362.3 1710.4,1359.2 1717.2,1356.9 1722.8,1355.3 1727.4,1355.1 1731.9,1356.7 1737.1,1359.6 1742.1,1361.9 1747.3,1361.2 1752.2,1358.5 1757.2,1356.9 1762.4,1358.3 1768.1,1361.9 1773.7,1365.0 1780.5,1367.3 1787.3,1368.9 1794.1,1370.5 1799.7,1371.6 1805.4,1371.8 1812.1,1370.9 1818.9,1369.6 1825.7,1369.1 1831.3,1367.5 1835.9,1364.6 1840.4,1360.8 1845.4,1358.9 1850.6,1360.3 1856.2,1361.7 1861.9,1361.7 1867.5,1361.0 1872.0,1358.9 1877.2,1355.3 1882.2,1351.9 1887.9,1350.6 1893.1,1351.0 1898.0,1353.3 1903.2,1357.1 1908.2,1360.3 1913.9,1361.9 1920.6,1362.6 1926.3,1363.0 1931.9,1364.8 1937.6,1366.6 1942.8,1366.2 1947.8,1366.2 1953.0,1368.9 1958.4,1370.9 1963.6,1370.0 1969.2,1366.9 1974.9,1363.5 1980.5,1361.2 1986.2,1360.3 1991.8,1360.3 1997.5,1359.6 2003.1,1357.4 2008.8,1355.1 2014.4,1355.8 2020.1,1359.2 2025.7,1361.9 2031.4,1361.9 2037.0,1360.3 2042.7,1358.3 2047.2,1357.8 2052.9,1358.9 2058.5,1360.3 2063.0,1360.8 2068.7,1362.6 2074.3,1363.9 2080.0,1363.5 2085.6,1361.9 2090.2,1361.0 2094.7,1361.4 2099.2,1363.9 2103.7,1366.2 2108.2,1365.3 2112.3,1362.3"/>
</defs>
<rect x="304.5" y="129.5" width="1807.9" height="1429.0" fill="none" stroke="#262626" stroke-width="2.08"/>
<path d="M459.5 129.5V148.0M459.5 1558.5V1540.0M666.1 129.5V148.0M666.1 1558.5V1540.0M872.7 129.5V148.0M872.7 1558.5V1540.0M1079.3 129.5V148.0M1079.3 1558.5V1540.0M1285.9 129.5V148.0M1285.9 1558.5V1540.0M1492.5 129.5V148.0M1492.5 1558.5V1540.0M1699.2 129.5V148.0M1699.2 1558.5V1540.0M1905.8 129.5V148.0M1905.8 1558.5V1540.0M2112.4 129.5V148.0M2112.4 1558.5V1540.0M304.5 353.7H323.0M2112.4 353.7H2093.9M304.5 633.4H323.0M2112.4 633.4H2093.9M304.5 913.4H323.0M2112.4 913.4H2093.9M304.5 1193.6H323.0M2112.4 1193.6H2093.9" stroke="#262626" stroke-width="2.08" fill="none"/>
<g clip-path="url(#ax)" fill="none" stroke-width="2.08" stroke-linejoin="round">
<use href="#r0" stroke="#0000ff"/>
<use href="#r1" stroke="#464646"/>
<use href="#r2" stroke="#464646"/>
<use href="#r3" stroke="#464646"/>
<use href="#r4" stroke="#464646"/>
<use href="#r5" stroke="#464646"/>
<use href="#r6" stroke="#464646"/>
<use href="#r7" stroke="#464646"/>
<use href="#r8" stroke="#464646"/>
<use href="#r9" stroke="#464646"/>
<use href="#r10" stroke="#464646"/>
<g stroke="#808080">
<use href="#r1" y="1120.7"/>
<use href="#r2" y="1008.6"/>
<use href="#r3" y="896.6"/>
<use href="#r4" y="784.5"/>
<use href="#r5" y="672.4"/>
<use href="#r6" y="560.3"/>
<use href="#r7" y="448.3"/>
<use href="#r8" y="336.2"/>
<use href="#r9" y="224.1"/>
<use href="#r10" y="112.1"/>
</g>
<use href="#r0" y="1232.8" stroke="#0000ff"/>
</g>
<text transform="translate(324.85,228.40) scale(1.0868,1)" font-size="43.50" fill="#000">605500231</text>
<rect x="582.38" y="196.50" width="3.8" height="41.7" fill="#000"/>
<text transform="translate(604.62,228.40) scale(1.0745,1)" font-size="43.50" fill="#000">1.00</text>
<text transform="translate(324.96,340.47) scale(1.1274,1)" font-size="43.50" fill="#000">1501112</text>
<rect x="529.29" y="308.57" width="3.8" height="41.7" fill="#000"/>
<text transform="translate(551.56,340.47) scale(1.0753,1)" font-size="43.50" fill="#000">0.83</text>
<text transform="translate(325.10,452.54) scale(1.0859,1)" font-size="43.50" fill="#000">1500033</text>
<rect x="529.29" y="420.64" width="3.8" height="41.7" fill="#000"/>
<text transform="translate(551.58,452.54) scale(1.0665,1)" font-size="43.50" fill="#000">0.81</text>
<text transform="translate(325.10,564.61) scale(1.0872,1)" font-size="43.50" fill="#000">1329349</text>
<rect x="529.29" y="532.71" width="3.8" height="41.7" fill="#000"/>
<text transform="translate(551.57,564.61) scale(1.0741,1)" font-size="43.50" fill="#000">0.80</text>
<text transform="translate(325.02,676.68) scale(1.1107,1)" font-size="43.50" fill="#000">1501109</text>
<rect x="529.29" y="644.78" width="3.8" height="41.7" fill="#000"/>
<text transform="translate(551.56,676.68) scale(1.0778,1)" font-size="43.50" fill="#000">0.79</text>
<text transform="translate(325.02,788.75) scale(1.1112,1)" font-size="43.50" fill="#000">1134008</text>
<rect x="529.29" y="756.85" width="3.8" height="41.7" fill="#000"/>
<text transform="translate(551.56,788.75) scale(1.0778,1)" font-size="43.50" fill="#000">0.79</text>
<text transform="translate(324.94,900.82) scale(1.1341,1)" font-size="43.50" fill="#000">1115166</text>
<rect x="529.29" y="868.92" width="3.8" height="41.7" fill="#000"/>
<text transform="translate(551.57,900.82) scale(1.0700,1)" font-size="43.50" fill="#000">0.77</text>
<text transform="translate(325.10,1012.89) scale(1.0879,1)" font-size="43.50" fill="#000">1084504</text>
<rect x="529.29" y="980.99" width="3.8" height="41.7" fill="#000"/>
<text transform="translate(551.57,1012.89) scale(1.0703,1)" font-size="43.50" fill="#000">0.75</text>
<text transform="translate(324.94,1124.96) scale(1.1332,1)" font-size="43.50" fill="#000">1501110</text>
<rect x="529.29" y="1093.06" width="3.8" height="41.7" fill="#000"/>
<text transform="translate(551.57,1124.96) scale(1.0736,1)" font-size="43.50" fill="#000">0.74</text>
<text transform="translate(325.10,1237.03) scale(1.0881,1)" font-size="43.50" fill="#000">1340870</text>
<rect x="529.29" y="1205.13" width="3.8" height="41.7" fill="#000"/>
<text transform="translate(551.56,1237.03) scale(1.0753,1)" font-size="43.50" fill="#000">0.73</text>
<text transform="translate(325.03,1349.10) scale(1.1068,1)" font-size="43.50" fill="#000">1150567</text>
<rect x="529.29" y="1317.20" width="3.8" height="41.7" fill="#000"/>
<text transform="translate(551.56,1349.10) scale(1.0753,1)" font-size="43.50" fill="#000">0.73</text>
<line x1="665.7" y1="213.1" x2="665.7" y2="269.1" stroke="#ff0000" stroke-width="8.4"/>
<line x1="1099.6" y1="213.1" x2="1099.6" y2="269.1" stroke="#00e600" stroke-width="8.4"/>
<line x1="1120.0" y1="325.2" x2="1120.0" y2="381.2" stroke="#00e600" stroke-width="8.4"/>
<line x1="1224.9" y1="437.2" x2="1224.9" y2="493.2" stroke="#00e600" stroke-width="8.4"/>
<line x1="1132.2" y1="549.3" x2="1132.2" y2="605.3" stroke="#00e600" stroke-width="8.4"/>
<line x1="1115.0" y1="661.4" x2="1115.0" y2="717.4" stroke="#00e600" stroke-width="8.4"/>
<line x1="1172.9" y1="773.4" x2="1172.9" y2="829.4" stroke="#00e600" stroke-width="8.4"/>
<line x1="1122.8" y1="885.5" x2="1122.8" y2="941.5" stroke="#00e600" stroke-width="8.4"/>
<line x1="1133.2" y1="997.6" x2="1133.2" y2="1053.6" stroke="#00e600" stroke-width="8.4"/>
<line x1="1133.7" y1="1109.7" x2="1133.7" y2="1165.7" stroke="#00e600" stroke-width="8.4"/>
<line x1="1142.6" y1="1221.7" x2="1142.6" y2="1277.7" stroke="#00e600" stroke-width="8.4"/>
<line x1="1121.6" y1="1333.8" x2="1121.6" y2="1389.8" stroke="#00e600" stroke-width="8.4"/>
<text transform="translate(418.95,1617.20) scale(1.0604,1)" font-size="43.50" fill="#262626">-0.2</text>
<text transform="translate(653.81,1617.20) scale(1.0068,1)" font-size="43.50" fill="#262626">0</text>
<text transform="translate(840.44,1617.20) scale(1.0508,1)" font-size="43.50" fill="#262626">0.2</text>
<text transform="translate(1047.03,1617.20) scale(1.0668,1)" font-size="43.50" fill="#262626">0.4</text>
<text transform="translate(1253.65,1617.20) scale(1.0699,1)" font-size="43.50" fill="#262626">0.6</text>
<text transform="translate(1460.27,1617.20) scale(1.0660,1)" font-size="43.50" fill="#262626">0.8</text>
<text transform="translate(1687.11,1617.20) scale(0.9682,1)" font-size="43.50" fill="#262626">1</text>
<text transform="translate(1873.54,1617.20) scale(1.0507,1)" font-size="43.50" fill="#262626">1.2</text>
<text transform="translate(2080.10,1617.20) scale(1.0672,1)" font-size="43.50" fill="#262626">1.4</text>
<text transform="translate(754.33,96.20) scale(1.0910,1)" font-size="69.20" fill="#000">605500231</text>
<text transform="translate(1156.64,96.20) scale(0.9700,1)" font-size="69.20" fill="#000">OO</text>
<text transform="translate(1284.00,96.20) scale(0.9655,1)" font-size="69.20" fill="#000">AXEC1</text>
<text transform="translate(1527.86,96.20) scale(0.9284,1)" font-size="69.20" fill="#000">EHE</text>
<rect x="1143.0" y="87.9" width="7.3" height="8.3" fill="#000"/>
<rect x="1269.3" y="87.9" width="7.3" height="8.3" fill="#000"/>
<rect x="1511.8" y="87.9" width="7.3" height="8.3" fill="#000"/>
</svg></body></html>
